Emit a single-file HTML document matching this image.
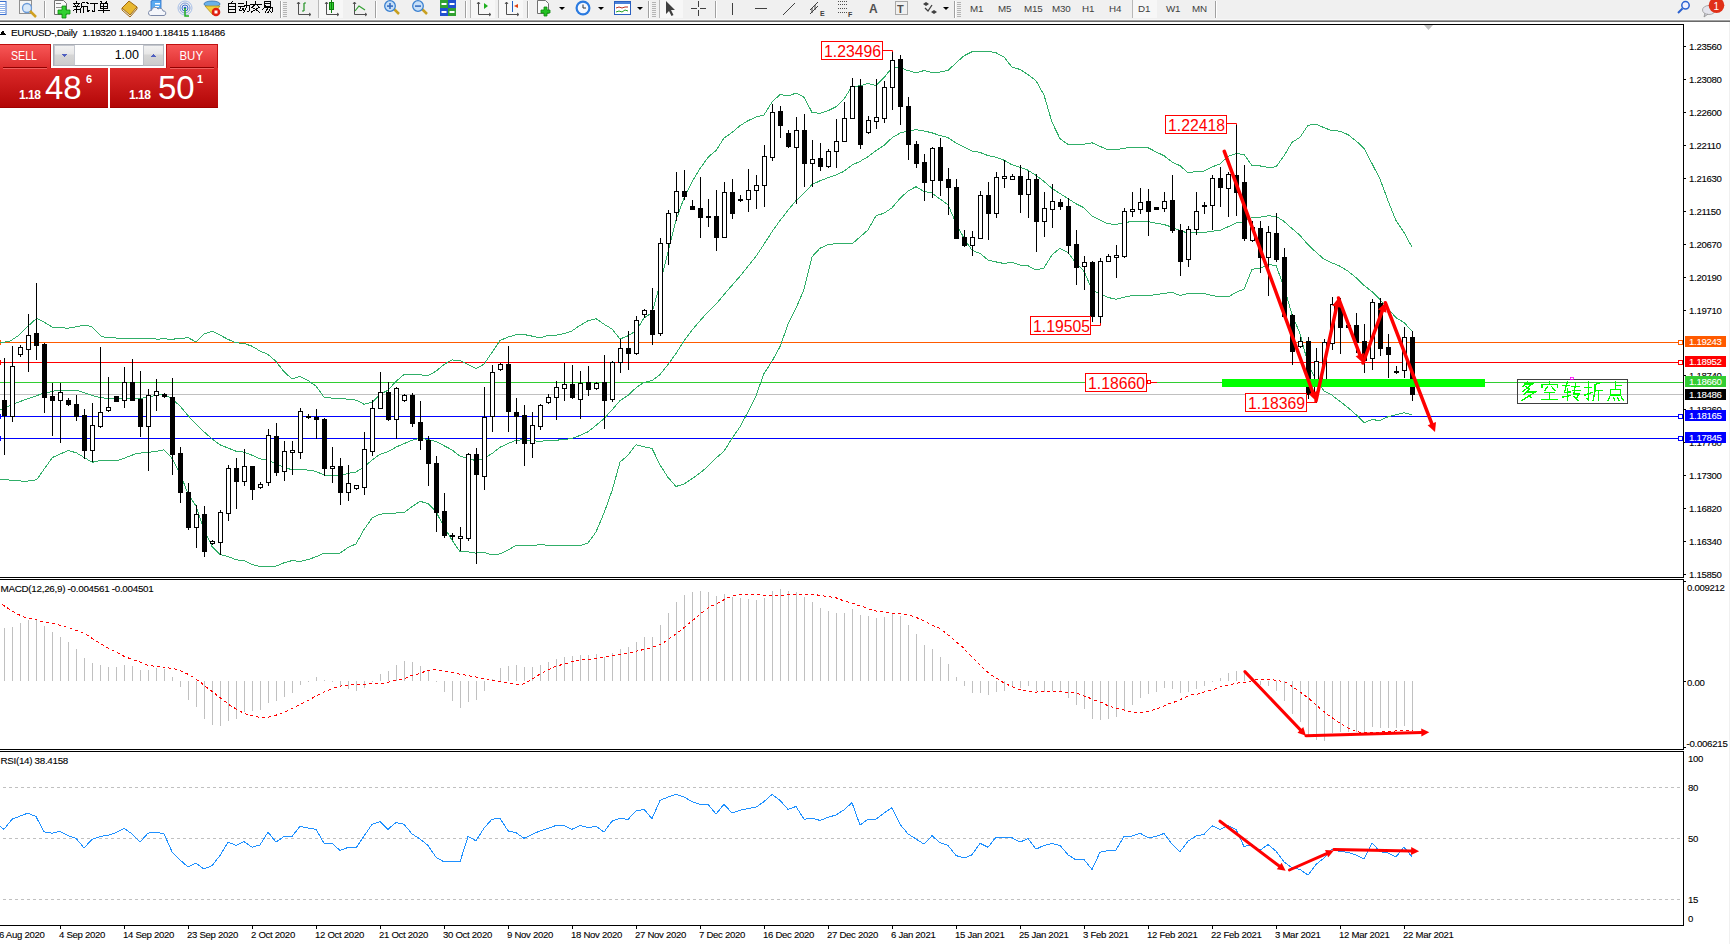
<!DOCTYPE html>
<html><head><meta charset="utf-8">
<style>
html,body{margin:0;padding:0;}
body{width:1730px;height:944px;overflow:hidden;position:relative;background:#fff;font-family:"Liberation Sans",sans-serif;}
.tb{position:absolute;left:0;top:0;width:1730px;height:19px;background:#f0f0f0;}
svg text{font-family:"Liberation Sans",sans-serif;}
.ax{font-size:9.6px;fill:#000;letter-spacing:-0.3px;stroke:currentColor;stroke-width:0.1px;}
.lb{font-size:16.5px;fill:#ff0000;}
</style></head><body>
<div class="tb"></div>
<svg width="1730" height="944" style="position:absolute;left:0;top:0" shape-rendering="crispEdges">
<rect x="0" y="19" width="1730" height="1" fill="#f8f8f8"/>
<rect x="0" y="20" width="1730" height="1" fill="#a0a0a0"/>
<rect x="0" y="21" width="1730" height="1" fill="#696969"/>
<rect x="1729" y="22" width="1" height="922" fill="#f0f0f0"/>
<polygon points="1424,25 1433,25 1428.5,30" fill="#c0c0c0" shape-rendering="auto"/>
<g>
<line x1="0" y1="342.5" x2="1683" y2="342.5" stroke="#ff5a00" stroke-width="1"/>
<line x1="0" y1="362.5" x2="1683" y2="362.5" stroke="#ff0000" stroke-width="1"/>
<line x1="0" y1="382.5" x2="1683" y2="382.5" stroke="#32cd32" stroke-width="1"/>
<line x1="0" y1="394.5" x2="1683" y2="394.5" stroke="#c0c0c0" stroke-width="1"/>
<line x1="0" y1="416.5" x2="1683" y2="416.5" stroke="#0000ff" stroke-width="1"/>
<line x1="0" y1="438.5" x2="1683" y2="438.5" stroke="#0000ff" stroke-width="1"/>
<rect x="0" y="340" width="1" height="5" fill="#ff5a00"/>
<rect x="1678.5" y="340.5" width="4" height="4" fill="#fff" stroke="#ff5a00" stroke-width="1"/>
<rect x="0" y="360" width="1" height="5" fill="#ff0000"/>
<rect x="1678.5" y="360.5" width="4" height="4" fill="#fff" stroke="#ff0000" stroke-width="1"/>
<rect x="0" y="414" width="1" height="5" fill="#0000ff"/>
<rect x="1678.5" y="414.5" width="4" height="4" fill="#fff" stroke="#0000ff" stroke-width="1"/>
<rect x="0" y="436" width="1" height="5" fill="#0000ff"/>
<rect x="1678.5" y="436.5" width="4" height="4" fill="#fff" stroke="#0000ff" stroke-width="1"/>
<polyline points="0.0,342.5 9.5,341.5 19.0,335.2 28.6,325.6 36.6,318.3 44.5,322.4 52.4,327.2 68.3,328.2 85.8,325.0 92.2,327.2 101.7,336.8 127.1,339.0 152.6,338.3 156.0,339.1 164.0,338.9 172.0,339.2 180.0,338.6 188.0,337.6 196.0,341.9 204.0,333.9 212.0,331.2 220.0,335.0 228.0,339.4 236.0,342.8 244.0,343.4 252.0,346.2 260.0,351.0 268.0,354.4 276.0,361.5 284.0,371.7 292.0,378.9 300.0,376.5 308.0,380.5 316.0,386.1 324.0,397.0 332.0,398.1 340.0,398.1 348.0,399.4 356.0,400.1 364.0,404.2 372.0,402.4 380.0,394.3 388.0,390.3 396.0,381.3 404.0,374.6 412.0,374.0 420.0,374.9 428.0,375.4 436.0,371.3 444.0,364.5 452.0,359.9 460.0,360.6 468.0,364.3 476.0,368.6 484.0,364.2 492.0,352.4 500.0,340.5 508.0,337.1 516.0,334.8 524.0,334.5 532.0,336.1 540.0,337.9 548.0,335.4 556.0,335.2 564.0,333.6 572.0,330.9 580.0,325.4 588.0,320.7 596.0,318.7 604.0,324.2 612.0,329.0 620.0,339.0 628.0,335.8 636.0,330.9 644.0,318.0 652.0,312.8 660.0,284.1 668.0,251.8 676.0,220.2 684.0,198.0 692.0,181.7 700.0,168.6 708.0,157.3 716.0,150.5 724.0,138.1 732.0,132.5 740.0,125.7 748.0,120.7 756.0,117.1 764.0,114.9 772.0,102.1 780.0,94.5 788.0,96.0 796.0,93.1 804.0,97.2 812.0,112.4 820.0,113.3 828.0,110.7 836.0,106.7 844.0,99.2 852.0,86.3 860.0,85.9 868.0,83.4 876.0,85.5 884.0,77.6 892.0,67.7 900.0,67.7 908.0,70.6 916.0,72.7 924.0,70.6 932.0,72.6 940.0,72.1 948.0,70.4 956.0,63.0 964.0,55.8 972.0,51.7 980.0,51.5 988.0,51.2 996.0,52.8 1004.0,57.0 1012.0,67.2 1020.0,69.4 1028.0,74.7 1036.0,80.7 1044.0,95.0 1052.0,122.2 1060.0,138.7 1068.0,144.4 1076.0,144.5 1084.0,144.2 1092.0,142.8 1100.0,146.3 1108.0,149.9 1116.0,149.7 1124.0,148.4 1132.0,147.1 1140.0,147.8 1148.0,147.7 1156.0,151.9 1164.0,155.7 1172.0,162.0 1180.0,165.7 1188.0,172.6 1196.0,171.6 1204.0,171.2 1212.0,166.9 1220.0,164.0 1228.0,156.5 1236.0,153.7 1244.0,154.4 1252.0,165.5 1260.0,165.9 1268.0,167.4 1276.0,166.9 1284.0,155.8 1292.0,142.3 1300.0,137.3 1308.0,125.4 1316.0,124.0 1324.0,127.7 1332.0,130.7 1340.0,131.1 1348.0,134.7 1356.0,140.8 1364.0,148.3 1372.0,163.6 1380.0,179.0 1388.0,200.6 1396.0,220.6 1404.0,232.5 1412.0,247.1" fill="none" stroke="#30ae68" stroke-width="1"/>
<polyline points="0.0,409.9 19.0,401.9 41.3,394.0 57.2,390.2 76.3,390.2 95.4,396.5 108.0,398.7 139.9,398.7 156.0,395.3 164.0,394.4 172.0,398.8 180.0,406.0 188.0,415.6 196.0,424.1 204.0,431.8 212.0,438.8 220.0,444.8 228.0,448.0 236.0,451.2 244.0,452.1 252.0,455.2 260.0,458.9 268.0,460.2 276.0,463.8 284.0,467.2 292.0,469.8 300.0,469.0 308.0,470.1 316.0,471.4 324.0,475.1 332.0,475.6 340.0,475.6 348.0,473.4 356.0,472.0 364.0,466.9 372.0,460.2 380.0,454.2 388.0,451.8 396.0,447.1 404.0,443.6 412.0,440.3 420.0,438.1 428.0,439.5 436.0,441.5 444.0,445.7 452.0,449.9 460.0,456.2 468.0,458.1 476.0,460.9 484.0,458.3 492.0,453.6 500.0,447.2 508.0,443.6 516.0,440.1 524.0,439.9 532.0,440.7 540.0,441.4 548.0,440.2 556.0,440.2 564.0,439.6 572.0,438.4 580.0,435.5 588.0,431.8 596.0,425.4 604.0,418.6 612.0,409.9 620.0,400.6 628.0,395.5 636.0,387.8 644.0,382.4 652.0,380.6 660.0,374.5 668.0,364.6 676.0,353.4 684.0,341.0 692.0,330.2 700.0,320.8 708.0,311.8 716.0,304.2 724.0,294.6 732.0,285.4 740.0,276.2 748.0,266.3 756.0,256.4 764.0,244.2 772.0,231.7 780.0,220.6 788.0,210.2 796.0,200.7 804.0,193.3 812.0,184.6 820.0,180.8 828.0,177.7 836.0,175.2 844.0,171.2 852.0,165.1 860.0,161.4 868.0,156.7 876.0,150.7 884.0,145.4 892.0,137.8 900.0,133.1 908.0,130.8 916.0,129.7 924.0,131.0 932.0,132.8 940.0,135.6 948.0,137.6 956.0,143.0 964.0,147.1 972.0,151.0 980.0,152.4 988.0,155.6 996.0,157.3 1004.0,160.2 1012.0,164.8 1020.0,167.2 1028.0,170.2 1036.0,175.4 1044.0,181.4 1052.0,188.5 1060.0,193.5 1068.0,198.6 1076.0,203.8 1084.0,207.8 1092.0,216.2 1100.0,220.2 1108.0,223.7 1116.0,224.5 1124.0,222.8 1132.0,221.4 1140.0,221.8 1148.0,221.7 1156.0,223.2 1164.0,224.5 1172.0,227.2 1180.0,230.6 1188.0,233.1 1196.0,232.6 1204.0,232.4 1212.0,231.2 1220.0,230.3 1228.0,226.8 1236.0,223.0 1244.0,221.8 1252.0,217.3 1260.0,217.2 1268.0,215.9 1276.0,216.2 1284.0,221.4 1292.0,228.5 1300.0,235.4 1308.0,244.6 1316.0,252.2 1324.0,259.2 1332.0,262.9 1340.0,266.2 1348.0,271.1 1356.0,277.7 1364.0,285.4 1372.0,291.6 1380.0,299.7 1388.0,308.7 1396.0,317.6 1404.0,322.6 1412.0,330.9" fill="none" stroke="#30ae68" stroke-width="1"/>
<polyline points="0.0,479.2 25.4,481.4 36.6,479.8 52.4,457.5 68.3,450.5 76.3,452.8 92.2,462.3 101.7,460.1 117.6,460.7 136.7,453.4 156.0,451.5 164.0,449.8 172.0,458.3 180.0,473.4 188.0,493.6 196.0,506.2 204.0,529.6 212.0,546.4 220.0,554.6 228.0,556.6 236.0,559.7 244.0,560.7 252.0,564.3 260.0,566.7 268.0,566.1 276.0,566.1 284.0,562.8 292.0,560.6 300.0,561.5 308.0,559.6 316.0,556.8 324.0,553.1 332.0,553.2 340.0,553.2 348.0,547.5 356.0,543.9 364.0,529.6 372.0,518.1 380.0,514.2 388.0,513.3 396.0,513.0 404.0,512.6 412.0,506.6 420.0,501.3 428.0,503.6 436.0,511.7 444.0,526.9 452.0,540.0 460.0,551.8 468.0,551.9 476.0,553.1 484.0,552.4 492.0,554.8 500.0,553.9 508.0,550.1 516.0,545.5 524.0,545.2 532.0,545.3 540.0,544.8 548.0,545.1 556.0,545.2 564.0,545.7 572.0,545.8 580.0,545.6 588.0,542.9 596.0,532.0 604.0,513.0 612.0,490.9 620.0,462.1 628.0,455.2 636.0,444.7 644.0,446.9 652.0,448.3 660.0,464.9 668.0,477.4 676.0,486.5 684.0,484.0 692.0,478.7 700.0,473.0 708.0,466.2 716.0,458.0 724.0,451.2 732.0,438.4 740.0,426.8 748.0,411.9 756.0,395.7 764.0,373.5 772.0,361.3 780.0,346.6 788.0,324.4 796.0,308.3 804.0,289.5 812.0,256.8 820.0,248.2 828.0,244.6 836.0,243.6 844.0,243.3 852.0,243.9 860.0,237.0 868.0,229.9 876.0,215.8 884.0,213.2 892.0,207.8 900.0,198.5 908.0,191.0 916.0,186.7 924.0,191.4 932.0,193.0 940.0,199.0 948.0,204.8 956.0,223.0 964.0,238.4 972.0,250.3 980.0,253.4 988.0,259.9 996.0,261.9 1004.0,263.5 1012.0,262.3 1020.0,265.1 1028.0,265.7 1036.0,270.1 1044.0,267.9 1052.0,254.8 1060.0,248.3 1068.0,252.7 1076.0,263.0 1084.0,271.3 1092.0,289.5 1100.0,294.1 1108.0,297.4 1116.0,299.3 1124.0,297.2 1132.0,295.7 1140.0,295.7 1148.0,295.6 1156.0,294.6 1164.0,293.3 1172.0,292.4 1180.0,295.4 1188.0,293.5 1196.0,293.5 1204.0,293.6 1212.0,295.6 1220.0,296.6 1228.0,297.0 1236.0,292.3 1244.0,289.2 1252.0,269.2 1260.0,268.4 1268.0,264.5 1276.0,265.4 1284.0,287.0 1292.0,314.7 1300.0,333.6 1308.0,363.8 1316.0,380.4 1324.0,390.8 1332.0,395.2 1340.0,401.4 1348.0,407.6 1356.0,414.6 1364.0,422.6 1372.0,419.7 1380.0,420.4 1388.0,416.8 1396.0,414.7 1404.0,412.7 1412.0,414.8" fill="none" stroke="#30ae68" stroke-width="1"/>
<rect x="4" y="358" width="1" height="97" fill="#000"/>
<rect x="2" y="400" width="5" height="16" fill="#000"/>
<rect x="12" y="346" width="1" height="76" fill="#000"/>
<rect x="10.5" y="366.5" width="4" height="50" fill="#fff" stroke="#000" stroke-width="1"/>
<rect x="20" y="345" width="1" height="12" fill="#000"/>
<rect x="18.5" y="347.5" width="4" height="7" fill="#fff" stroke="#000" stroke-width="1"/>
<rect x="28" y="314" width="1" height="58" fill="#000"/>
<rect x="26.5" y="335.5" width="4" height="14" fill="#fff" stroke="#000" stroke-width="1"/>
<rect x="36" y="283" width="1" height="77" fill="#000"/>
<rect x="34" y="333" width="5" height="13" fill="#000"/>
<rect x="44" y="343" width="1" height="70" fill="#000"/>
<rect x="42" y="344" width="5" height="54" fill="#000"/>
<rect x="52" y="383" width="1" height="53" fill="#000"/>
<rect x="50" y="396" width="5" height="5" fill="#000"/>
<rect x="60" y="383" width="1" height="60" fill="#000"/>
<rect x="58.5" y="392.5" width="4" height="8" fill="#fff" stroke="#000" stroke-width="1"/>
<rect x="68" y="398" width="1" height="8" fill="#000"/>
<rect x="66" y="400" width="5" height="5" fill="#000"/>
<rect x="76" y="395" width="1" height="26" fill="#000"/>
<rect x="74" y="404" width="5" height="13" fill="#000"/>
<rect x="84" y="409" width="1" height="50" fill="#000"/>
<rect x="82" y="415" width="5" height="36" fill="#000"/>
<rect x="92" y="403" width="1" height="59" fill="#000"/>
<rect x="90.5" y="425.5" width="4" height="25" fill="#fff" stroke="#000" stroke-width="1"/>
<rect x="100" y="347" width="1" height="81" fill="#000"/>
<rect x="98.5" y="412.5" width="4" height="14" fill="#fff" stroke="#000" stroke-width="1"/>
<rect x="108" y="377" width="1" height="35" fill="#000"/>
<rect x="106.5" y="407.5" width="4" height="3" fill="#fff" stroke="#000" stroke-width="1"/>
<rect x="116" y="396" width="1" height="6" fill="#000"/>
<rect x="114" y="396" width="5" height="6" fill="#000"/>
<rect x="124" y="367" width="1" height="41" fill="#000"/>
<rect x="122.5" y="382.5" width="4" height="18" fill="#fff" stroke="#000" stroke-width="1"/>
<rect x="132" y="359" width="1" height="42" fill="#000"/>
<rect x="130" y="382" width="5" height="19" fill="#000"/>
<rect x="140" y="371" width="1" height="66" fill="#000"/>
<rect x="138" y="399" width="5" height="28" fill="#000"/>
<rect x="148" y="389" width="1" height="82" fill="#000"/>
<rect x="146.5" y="395.5" width="4" height="31" fill="#fff" stroke="#000" stroke-width="1"/>
<rect x="156" y="379" width="1" height="32" fill="#000"/>
<rect x="154.5" y="391.5" width="4" height="4" fill="#fff" stroke="#000" stroke-width="1"/>
<rect x="164" y="393" width="1" height="5" fill="#000"/>
<rect x="162" y="394" width="5" height="3" fill="#000"/>
<rect x="172" y="378" width="1" height="97" fill="#000"/>
<rect x="170" y="397" width="5" height="58" fill="#000"/>
<rect x="180" y="447" width="1" height="56" fill="#000"/>
<rect x="178" y="453" width="5" height="40" fill="#000"/>
<rect x="188" y="483" width="1" height="47" fill="#000"/>
<rect x="186" y="492" width="5" height="36" fill="#000"/>
<rect x="196" y="505" width="1" height="43" fill="#000"/>
<rect x="194.5" y="514.5" width="4" height="13" fill="#fff" stroke="#000" stroke-width="1"/>
<rect x="204" y="506" width="1" height="51" fill="#000"/>
<rect x="202" y="514" width="5" height="38" fill="#000"/>
<rect x="212" y="540" width="1" height="5" fill="#000"/>
<rect x="210.5" y="541.5" width="4" height="2" fill="#fff" stroke="#000" stroke-width="1"/>
<rect x="220" y="510" width="1" height="45" fill="#000"/>
<rect x="218.5" y="512.5" width="4" height="30" fill="#fff" stroke="#000" stroke-width="1"/>
<rect x="228" y="465" width="1" height="56" fill="#000"/>
<rect x="226.5" y="468.5" width="4" height="45" fill="#fff" stroke="#000" stroke-width="1"/>
<rect x="236" y="458" width="1" height="51" fill="#000"/>
<rect x="234" y="468" width="5" height="14" fill="#000"/>
<rect x="244" y="449" width="1" height="37" fill="#000"/>
<rect x="242.5" y="466.5" width="4" height="15" fill="#fff" stroke="#000" stroke-width="1"/>
<rect x="252" y="466" width="1" height="34" fill="#000"/>
<rect x="250" y="466" width="5" height="24" fill="#000"/>
<rect x="260" y="482" width="1" height="7" fill="#000"/>
<rect x="258.5" y="484.5" width="4" height="3" fill="#fff" stroke="#000" stroke-width="1"/>
<rect x="268" y="429" width="1" height="57" fill="#000"/>
<rect x="266.5" y="435.5" width="4" height="47" fill="#fff" stroke="#000" stroke-width="1"/>
<rect x="276" y="423" width="1" height="53" fill="#000"/>
<rect x="274" y="436" width="5" height="37" fill="#000"/>
<rect x="284" y="441" width="1" height="40" fill="#000"/>
<rect x="282.5" y="451.5" width="4" height="20" fill="#fff" stroke="#000" stroke-width="1"/>
<rect x="292" y="441" width="1" height="34" fill="#000"/>
<rect x="290.5" y="450.5" width="4" height="2" fill="#fff" stroke="#000" stroke-width="1"/>
<rect x="300" y="408" width="1" height="51" fill="#000"/>
<rect x="298.5" y="411.5" width="4" height="41" fill="#fff" stroke="#000" stroke-width="1"/>
<rect x="308" y="414" width="1" height="5" fill="#000"/>
<rect x="306" y="416" width="5" height="2" fill="#000"/>
<rect x="316" y="409" width="1" height="30" fill="#000"/>
<rect x="314" y="417" width="5" height="3" fill="#000"/>
<rect x="324" y="418" width="1" height="58" fill="#000"/>
<rect x="322" y="419" width="5" height="50" fill="#000"/>
<rect x="332" y="447" width="1" height="36" fill="#000"/>
<rect x="330.5" y="466.5" width="4" height="2" fill="#fff" stroke="#000" stroke-width="1"/>
<rect x="340" y="458" width="1" height="47" fill="#000"/>
<rect x="338" y="466" width="5" height="27" fill="#000"/>
<rect x="348" y="465" width="1" height="36" fill="#000"/>
<rect x="346.5" y="483.5" width="4" height="9" fill="#fff" stroke="#000" stroke-width="1"/>
<rect x="356" y="485" width="1" height="5" fill="#000"/>
<rect x="354.5" y="485.5" width="4" height="3" fill="#fff" stroke="#000" stroke-width="1"/>
<rect x="364" y="432" width="1" height="63" fill="#000"/>
<rect x="362.5" y="449.5" width="4" height="38" fill="#fff" stroke="#000" stroke-width="1"/>
<rect x="372" y="400" width="1" height="56" fill="#000"/>
<rect x="370.5" y="408.5" width="4" height="43" fill="#fff" stroke="#000" stroke-width="1"/>
<rect x="380" y="372" width="1" height="37" fill="#000"/>
<rect x="378.5" y="392.5" width="4" height="16" fill="#fff" stroke="#000" stroke-width="1"/>
<rect x="388" y="382" width="1" height="39" fill="#000"/>
<rect x="386" y="392" width="5" height="28" fill="#000"/>
<rect x="396" y="387" width="1" height="52" fill="#000"/>
<rect x="394.5" y="388.5" width="4" height="31" fill="#fff" stroke="#000" stroke-width="1"/>
<rect x="404" y="394" width="1" height="8" fill="#000"/>
<rect x="402.5" y="395.5" width="4" height="5" fill="#fff" stroke="#000" stroke-width="1"/>
<rect x="412" y="393" width="1" height="34" fill="#000"/>
<rect x="410" y="395" width="5" height="29" fill="#000"/>
<rect x="420" y="401" width="1" height="49" fill="#000"/>
<rect x="418" y="422" width="5" height="19" fill="#000"/>
<rect x="428" y="436" width="1" height="50" fill="#000"/>
<rect x="426" y="440" width="5" height="24" fill="#000"/>
<rect x="436" y="456" width="1" height="76" fill="#000"/>
<rect x="434" y="463" width="5" height="50" fill="#000"/>
<rect x="444" y="493" width="1" height="45" fill="#000"/>
<rect x="442" y="511" width="5" height="25" fill="#000"/>
<rect x="452" y="533" width="1" height="7" fill="#000"/>
<rect x="450" y="535" width="5" height="2" fill="#000"/>
<rect x="460" y="527" width="1" height="24" fill="#000"/>
<rect x="458.5" y="536.5" width="4" height="2" fill="#fff" stroke="#000" stroke-width="1"/>
<rect x="468" y="453" width="1" height="88" fill="#000"/>
<rect x="466.5" y="454.5" width="4" height="84" fill="#fff" stroke="#000" stroke-width="1"/>
<rect x="476" y="448" width="1" height="116" fill="#000"/>
<rect x="474" y="454" width="5" height="21" fill="#000"/>
<rect x="484" y="387" width="1" height="103" fill="#000"/>
<rect x="482.5" y="417.5" width="4" height="59" fill="#fff" stroke="#000" stroke-width="1"/>
<rect x="492" y="365" width="1" height="67" fill="#000"/>
<rect x="490.5" y="372.5" width="4" height="44" fill="#fff" stroke="#000" stroke-width="1"/>
<rect x="500" y="363" width="1" height="8" fill="#000"/>
<rect x="498.5" y="364.5" width="4" height="5" fill="#fff" stroke="#000" stroke-width="1"/>
<rect x="508" y="346" width="1" height="86" fill="#000"/>
<rect x="506" y="364" width="5" height="48" fill="#000"/>
<rect x="516" y="398" width="1" height="46" fill="#000"/>
<rect x="514" y="412" width="5" height="5" fill="#000"/>
<rect x="524" y="405" width="1" height="61" fill="#000"/>
<rect x="522" y="415" width="5" height="29" fill="#000"/>
<rect x="532" y="412" width="1" height="46" fill="#000"/>
<rect x="530.5" y="425.5" width="4" height="18" fill="#fff" stroke="#000" stroke-width="1"/>
<rect x="540" y="404" width="1" height="26" fill="#000"/>
<rect x="538.5" y="405.5" width="4" height="21" fill="#fff" stroke="#000" stroke-width="1"/>
<rect x="548" y="394" width="1" height="10" fill="#000"/>
<rect x="546.5" y="397.5" width="4" height="5" fill="#fff" stroke="#000" stroke-width="1"/>
<rect x="556" y="381" width="1" height="39" fill="#000"/>
<rect x="554.5" y="387.5" width="4" height="10" fill="#fff" stroke="#000" stroke-width="1"/>
<rect x="564" y="363" width="1" height="38" fill="#000"/>
<rect x="562.5" y="384.5" width="4" height="4" fill="#fff" stroke="#000" stroke-width="1"/>
<rect x="572" y="365" width="1" height="34" fill="#000"/>
<rect x="570" y="384" width="5" height="14" fill="#000"/>
<rect x="580" y="371" width="1" height="48" fill="#000"/>
<rect x="578.5" y="383.5" width="4" height="16" fill="#fff" stroke="#000" stroke-width="1"/>
<rect x="588" y="366" width="1" height="30" fill="#000"/>
<rect x="586" y="382" width="5" height="8" fill="#000"/>
<rect x="596" y="382" width="1" height="8" fill="#000"/>
<rect x="594.5" y="383.5" width="4" height="5" fill="#fff" stroke="#000" stroke-width="1"/>
<rect x="604" y="355" width="1" height="74" fill="#000"/>
<rect x="602" y="382" width="5" height="19" fill="#000"/>
<rect x="612" y="361" width="1" height="41" fill="#000"/>
<rect x="610.5" y="362.5" width="4" height="37" fill="#fff" stroke="#000" stroke-width="1"/>
<rect x="620" y="339" width="1" height="34" fill="#000"/>
<rect x="618.5" y="348.5" width="4" height="14" fill="#fff" stroke="#000" stroke-width="1"/>
<rect x="628" y="331" width="1" height="39" fill="#000"/>
<rect x="626" y="348" width="5" height="6" fill="#000"/>
<rect x="636" y="316" width="1" height="39" fill="#000"/>
<rect x="634.5" y="320.5" width="4" height="33" fill="#fff" stroke="#000" stroke-width="1"/>
<rect x="644" y="309" width="1" height="9" fill="#000"/>
<rect x="642.5" y="310.5" width="4" height="4" fill="#fff" stroke="#000" stroke-width="1"/>
<rect x="652" y="288" width="1" height="57" fill="#000"/>
<rect x="650" y="310" width="5" height="25" fill="#000"/>
<rect x="660" y="238" width="1" height="98" fill="#000"/>
<rect x="658.5" y="243.5" width="4" height="90" fill="#fff" stroke="#000" stroke-width="1"/>
<rect x="668" y="210" width="1" height="55" fill="#000"/>
<rect x="666.5" y="213.5" width="4" height="30" fill="#fff" stroke="#000" stroke-width="1"/>
<rect x="676" y="172" width="1" height="49" fill="#000"/>
<rect x="674.5" y="191.5" width="4" height="21" fill="#fff" stroke="#000" stroke-width="1"/>
<rect x="684" y="170" width="1" height="30" fill="#000"/>
<rect x="682" y="191" width="5" height="6" fill="#000"/>
<rect x="692" y="200" width="1" height="10" fill="#000"/>
<rect x="690" y="206" width="5" height="4" fill="#000"/>
<rect x="700" y="177" width="1" height="61" fill="#000"/>
<rect x="698" y="208" width="5" height="10" fill="#000"/>
<rect x="708" y="199" width="1" height="28" fill="#000"/>
<rect x="706" y="216" width="5" height="2" fill="#000"/>
<rect x="716" y="190" width="1" height="61" fill="#000"/>
<rect x="714" y="216" width="5" height="22" fill="#000"/>
<rect x="724" y="182" width="1" height="56" fill="#000"/>
<rect x="722.5" y="192.5" width="4" height="45" fill="#fff" stroke="#000" stroke-width="1"/>
<rect x="732" y="179" width="1" height="40" fill="#000"/>
<rect x="730" y="192" width="5" height="22" fill="#000"/>
<rect x="740" y="195" width="1" height="7" fill="#000"/>
<rect x="738" y="199" width="5" height="2" fill="#000"/>
<rect x="748" y="169" width="1" height="43" fill="#000"/>
<rect x="746.5" y="190.5" width="4" height="9" fill="#fff" stroke="#000" stroke-width="1"/>
<rect x="756" y="175" width="1" height="34" fill="#000"/>
<rect x="754.5" y="185.5" width="4" height="5" fill="#fff" stroke="#000" stroke-width="1"/>
<rect x="764" y="145" width="1" height="62" fill="#000"/>
<rect x="762.5" y="156.5" width="4" height="29" fill="#fff" stroke="#000" stroke-width="1"/>
<rect x="772" y="104" width="1" height="57" fill="#000"/>
<rect x="770.5" y="112.5" width="4" height="45" fill="#fff" stroke="#000" stroke-width="1"/>
<rect x="780" y="106" width="1" height="32" fill="#000"/>
<rect x="778" y="111" width="5" height="15" fill="#000"/>
<rect x="788" y="130" width="1" height="18" fill="#000"/>
<rect x="786" y="133" width="5" height="14" fill="#000"/>
<rect x="796" y="117" width="1" height="87" fill="#000"/>
<rect x="794.5" y="130.5" width="4" height="17" fill="#fff" stroke="#000" stroke-width="1"/>
<rect x="804" y="114" width="1" height="73" fill="#000"/>
<rect x="802" y="130" width="5" height="34" fill="#000"/>
<rect x="812" y="140" width="1" height="47" fill="#000"/>
<rect x="810.5" y="159.5" width="4" height="4" fill="#fff" stroke="#000" stroke-width="1"/>
<rect x="820" y="143" width="1" height="28" fill="#000"/>
<rect x="818" y="158" width="5" height="9" fill="#000"/>
<rect x="828" y="149" width="1" height="19" fill="#000"/>
<rect x="826.5" y="151.5" width="4" height="15" fill="#fff" stroke="#000" stroke-width="1"/>
<rect x="836" y="119" width="1" height="49" fill="#000"/>
<rect x="834.5" y="141.5" width="4" height="10" fill="#fff" stroke="#000" stroke-width="1"/>
<rect x="844" y="102" width="1" height="40" fill="#000"/>
<rect x="842.5" y="118.5" width="4" height="23" fill="#fff" stroke="#000" stroke-width="1"/>
<rect x="852" y="78" width="1" height="41" fill="#000"/>
<rect x="850.5" y="86.5" width="4" height="32" fill="#fff" stroke="#000" stroke-width="1"/>
<rect x="860" y="79" width="1" height="70" fill="#000"/>
<rect x="858" y="86" width="5" height="59" fill="#000"/>
<rect x="868" y="116" width="1" height="18" fill="#000"/>
<rect x="866.5" y="120.5" width="4" height="12" fill="#fff" stroke="#000" stroke-width="1"/>
<rect x="876" y="79" width="1" height="50" fill="#000"/>
<rect x="874.5" y="117.5" width="4" height="4" fill="#fff" stroke="#000" stroke-width="1"/>
<rect x="884" y="81" width="1" height="42" fill="#000"/>
<rect x="882.5" y="87.5" width="4" height="31" fill="#fff" stroke="#000" stroke-width="1"/>
<rect x="892" y="51" width="1" height="59" fill="#000"/>
<rect x="890.5" y="60.5" width="4" height="27" fill="#fff" stroke="#000" stroke-width="1"/>
<rect x="900" y="55" width="1" height="70" fill="#000"/>
<rect x="898" y="59" width="5" height="48" fill="#000"/>
<rect x="908" y="97" width="1" height="63" fill="#000"/>
<rect x="906" y="106" width="5" height="39" fill="#000"/>
<rect x="916" y="141" width="1" height="27" fill="#000"/>
<rect x="914" y="144" width="5" height="20" fill="#000"/>
<rect x="924" y="154" width="1" height="47" fill="#000"/>
<rect x="922" y="162" width="5" height="21" fill="#000"/>
<rect x="932" y="147" width="1" height="51" fill="#000"/>
<rect x="930.5" y="148.5" width="4" height="32" fill="#fff" stroke="#000" stroke-width="1"/>
<rect x="940" y="138" width="1" height="58" fill="#000"/>
<rect x="938" y="147" width="5" height="34" fill="#000"/>
<rect x="948" y="168" width="1" height="47" fill="#000"/>
<rect x="946" y="179" width="5" height="9" fill="#000"/>
<rect x="956" y="179" width="1" height="60" fill="#000"/>
<rect x="954" y="187" width="5" height="52" fill="#000"/>
<rect x="964" y="230" width="1" height="17" fill="#000"/>
<rect x="962" y="237" width="5" height="9" fill="#000"/>
<rect x="972" y="231" width="1" height="25" fill="#000"/>
<rect x="970.5" y="237.5" width="4" height="8" fill="#fff" stroke="#000" stroke-width="1"/>
<rect x="980" y="191" width="1" height="48" fill="#000"/>
<rect x="978.5" y="195.5" width="4" height="43" fill="#fff" stroke="#000" stroke-width="1"/>
<rect x="988" y="182" width="1" height="58" fill="#000"/>
<rect x="986" y="195" width="5" height="19" fill="#000"/>
<rect x="996" y="172" width="1" height="46" fill="#000"/>
<rect x="994.5" y="177.5" width="4" height="36" fill="#fff" stroke="#000" stroke-width="1"/>
<rect x="1004" y="160" width="1" height="28" fill="#000"/>
<rect x="1002.5" y="176.5" width="4" height="2" fill="#fff" stroke="#000" stroke-width="1"/>
<rect x="1012" y="174" width="1" height="6" fill="#000"/>
<rect x="1010.5" y="176.5" width="4" height="3" fill="#fff" stroke="#000" stroke-width="1"/>
<rect x="1020" y="165" width="1" height="48" fill="#000"/>
<rect x="1018" y="176" width="5" height="19" fill="#000"/>
<rect x="1028" y="171" width="1" height="47" fill="#000"/>
<rect x="1026.5" y="179.5" width="4" height="15" fill="#fff" stroke="#000" stroke-width="1"/>
<rect x="1036" y="174" width="1" height="78" fill="#000"/>
<rect x="1034" y="179" width="5" height="43" fill="#000"/>
<rect x="1044" y="192" width="1" height="45" fill="#000"/>
<rect x="1042.5" y="208.5" width="4" height="13" fill="#fff" stroke="#000" stroke-width="1"/>
<rect x="1052" y="184" width="1" height="44" fill="#000"/>
<rect x="1050.5" y="201.5" width="4" height="8" fill="#fff" stroke="#000" stroke-width="1"/>
<rect x="1060" y="199" width="1" height="11" fill="#000"/>
<rect x="1058" y="202" width="5" height="5" fill="#000"/>
<rect x="1068" y="198" width="1" height="56" fill="#000"/>
<rect x="1066" y="206" width="5" height="40" fill="#000"/>
<rect x="1076" y="230" width="1" height="55" fill="#000"/>
<rect x="1074" y="244" width="5" height="24" fill="#000"/>
<rect x="1084" y="256" width="1" height="34" fill="#000"/>
<rect x="1082.5" y="262.5" width="4" height="4" fill="#fff" stroke="#000" stroke-width="1"/>
<rect x="1092" y="261" width="1" height="61" fill="#000"/>
<rect x="1090" y="262" width="5" height="55" fill="#000"/>
<rect x="1100" y="258" width="1" height="67" fill="#000"/>
<rect x="1098.5" y="261.5" width="4" height="55" fill="#fff" stroke="#000" stroke-width="1"/>
<rect x="1108" y="254" width="1" height="8" fill="#000"/>
<rect x="1106.5" y="256.5" width="4" height="5" fill="#fff" stroke="#000" stroke-width="1"/>
<rect x="1116" y="245" width="1" height="33" fill="#000"/>
<rect x="1114.5" y="255.5" width="4" height="2" fill="#fff" stroke="#000" stroke-width="1"/>
<rect x="1124" y="208" width="1" height="50" fill="#000"/>
<rect x="1122.5" y="211.5" width="4" height="45" fill="#fff" stroke="#000" stroke-width="1"/>
<rect x="1132" y="192" width="1" height="25" fill="#000"/>
<rect x="1130.5" y="209.5" width="4" height="2" fill="#fff" stroke="#000" stroke-width="1"/>
<rect x="1140" y="188" width="1" height="26" fill="#000"/>
<rect x="1138.5" y="202.5" width="4" height="7" fill="#fff" stroke="#000" stroke-width="1"/>
<rect x="1148" y="189" width="1" height="47" fill="#000"/>
<rect x="1146" y="201" width="5" height="11" fill="#000"/>
<rect x="1156" y="207" width="1" height="3" fill="#000"/>
<rect x="1154" y="207" width="5" height="3" fill="#000"/>
<rect x="1164" y="192" width="1" height="20" fill="#000"/>
<rect x="1162.5" y="201.5" width="4" height="7" fill="#fff" stroke="#000" stroke-width="1"/>
<rect x="1172" y="175" width="1" height="58" fill="#000"/>
<rect x="1170" y="200" width="5" height="31" fill="#000"/>
<rect x="1180" y="224" width="1" height="52" fill="#000"/>
<rect x="1178" y="230" width="5" height="32" fill="#000"/>
<rect x="1188" y="226" width="1" height="41" fill="#000"/>
<rect x="1186.5" y="229.5" width="4" height="30" fill="#fff" stroke="#000" stroke-width="1"/>
<rect x="1196" y="192" width="1" height="43" fill="#000"/>
<rect x="1194.5" y="211.5" width="4" height="18" fill="#fff" stroke="#000" stroke-width="1"/>
<rect x="1204" y="202" width="1" height="12" fill="#000"/>
<rect x="1202" y="205" width="5" height="2" fill="#000"/>
<rect x="1212" y="175" width="1" height="55" fill="#000"/>
<rect x="1210.5" y="178.5" width="4" height="27" fill="#fff" stroke="#000" stroke-width="1"/>
<rect x="1220" y="167" width="1" height="40" fill="#000"/>
<rect x="1218" y="178" width="5" height="10" fill="#000"/>
<rect x="1228" y="172" width="1" height="45" fill="#000"/>
<rect x="1226.5" y="174.5" width="4" height="14" fill="#fff" stroke="#000" stroke-width="1"/>
<rect x="1236" y="124" width="1" height="92" fill="#000"/>
<rect x="1234" y="175" width="5" height="18" fill="#000"/>
<rect x="1244" y="165" width="1" height="76" fill="#000"/>
<rect x="1242" y="182" width="5" height="57" fill="#000"/>
<rect x="1252" y="221" width="1" height="21" fill="#000"/>
<rect x="1250.5" y="227.5" width="4" height="13" fill="#fff" stroke="#000" stroke-width="1"/>
<rect x="1260" y="221" width="1" height="52" fill="#000"/>
<rect x="1258" y="228" width="5" height="30" fill="#000"/>
<rect x="1268" y="226" width="1" height="70" fill="#000"/>
<rect x="1266.5" y="232.5" width="4" height="25" fill="#fff" stroke="#000" stroke-width="1"/>
<rect x="1276" y="213" width="1" height="49" fill="#000"/>
<rect x="1274" y="233" width="5" height="27" fill="#000"/>
<rect x="1284" y="248" width="1" height="71" fill="#000"/>
<rect x="1282" y="257" width="5" height="60" fill="#000"/>
<rect x="1292" y="314" width="1" height="51" fill="#000"/>
<rect x="1290" y="315" width="5" height="37" fill="#000"/>
<rect x="1300" y="337" width="1" height="11" fill="#000"/>
<rect x="1298.5" y="341.5" width="4" height="5" fill="#fff" stroke="#000" stroke-width="1"/>
<rect x="1308" y="337" width="1" height="62" fill="#000"/>
<rect x="1306" y="341" width="5" height="54" fill="#000"/>
<rect x="1316" y="348" width="1" height="55" fill="#000"/>
<rect x="1314.5" y="361.5" width="4" height="31" fill="#fff" stroke="#000" stroke-width="1"/>
<rect x="1324" y="339" width="1" height="42" fill="#000"/>
<rect x="1322.5" y="342.5" width="4" height="37" fill="#fff" stroke="#000" stroke-width="1"/>
<rect x="1332" y="297" width="1" height="53" fill="#000"/>
<rect x="1330.5" y="304.5" width="4" height="39" fill="#fff" stroke="#000" stroke-width="1"/>
<rect x="1340" y="298" width="1" height="56" fill="#000"/>
<rect x="1338" y="306" width="5" height="22" fill="#000"/>
<rect x="1348" y="324" width="1" height="4" fill="#000"/>
<rect x="1346" y="325" width="5" height="3" fill="#000"/>
<rect x="1356" y="313" width="1" height="40" fill="#000"/>
<rect x="1354" y="325" width="5" height="18" fill="#000"/>
<rect x="1364" y="324" width="1" height="49" fill="#000"/>
<rect x="1362" y="341" width="5" height="20" fill="#000"/>
<rect x="1372" y="299" width="1" height="71" fill="#000"/>
<rect x="1370.5" y="302.5" width="4" height="56" fill="#fff" stroke="#000" stroke-width="1"/>
<rect x="1380" y="298" width="1" height="58" fill="#000"/>
<rect x="1378" y="303" width="5" height="46" fill="#000"/>
<rect x="1388" y="334" width="1" height="44" fill="#000"/>
<rect x="1386" y="347" width="5" height="8" fill="#000"/>
<rect x="1396" y="366" width="1" height="8" fill="#000"/>
<rect x="1394" y="371" width="5" height="2" fill="#000"/>
<rect x="1404" y="327" width="1" height="51" fill="#000"/>
<rect x="1402.5" y="337.5" width="4" height="33" fill="#fff" stroke="#000" stroke-width="1"/>
<rect x="1412" y="331" width="1" height="70" fill="#000"/>
<rect x="1410" y="337" width="5" height="58" fill="#000"/>
</g>
<g><rect x="4" y="628" width="1" height="53" fill="#c0c0c0"/>
<rect x="12" y="627" width="1" height="54" fill="#c0c0c0"/>
<rect x="20" y="623" width="1" height="58" fill="#c0c0c0"/>
<rect x="28" y="620" width="1" height="61" fill="#c0c0c0"/>
<rect x="36" y="619" width="1" height="62" fill="#c0c0c0"/>
<rect x="44" y="626" width="1" height="55" fill="#c0c0c0"/>
<rect x="52" y="632" width="1" height="49" fill="#c0c0c0"/>
<rect x="60" y="637" width="1" height="44" fill="#c0c0c0"/>
<rect x="68" y="642" width="1" height="39" fill="#c0c0c0"/>
<rect x="76" y="649" width="1" height="32" fill="#c0c0c0"/>
<rect x="84" y="658" width="1" height="23" fill="#c0c0c0"/>
<rect x="92" y="663" width="1" height="18" fill="#c0c0c0"/>
<rect x="100" y="665" width="1" height="16" fill="#c0c0c0"/>
<rect x="108" y="667" width="1" height="14" fill="#c0c0c0"/>
<rect x="116" y="667" width="1" height="14" fill="#c0c0c0"/>
<rect x="124" y="665" width="1" height="16" fill="#c0c0c0"/>
<rect x="132" y="666" width="1" height="15" fill="#c0c0c0"/>
<rect x="140" y="670" width="1" height="11" fill="#c0c0c0"/>
<rect x="148" y="670" width="1" height="11" fill="#c0c0c0"/>
<rect x="156" y="668" width="1" height="13" fill="#c0c0c0"/>
<rect x="164" y="669" width="1" height="12" fill="#c0c0c0"/>
<rect x="172" y="677" width="1" height="4" fill="#c0c0c0"/>
<rect x="180" y="681" width="1" height="6" fill="#c0c0c0"/>
<rect x="188" y="681" width="1" height="19" fill="#c0c0c0"/>
<rect x="196" y="681" width="1" height="26" fill="#c0c0c0"/>
<rect x="204" y="681" width="1" height="38" fill="#c0c0c0"/>
<rect x="212" y="681" width="1" height="44" fill="#c0c0c0"/>
<rect x="220" y="681" width="1" height="45" fill="#c0c0c0"/>
<rect x="228" y="681" width="1" height="40" fill="#c0c0c0"/>
<rect x="236" y="681" width="1" height="38" fill="#c0c0c0"/>
<rect x="244" y="681" width="1" height="31" fill="#c0c0c0"/>
<rect x="252" y="681" width="1" height="30" fill="#c0c0c0"/>
<rect x="260" y="681" width="1" height="29" fill="#c0c0c0"/>
<rect x="268" y="681" width="1" height="22" fill="#c0c0c0"/>
<rect x="276" y="681" width="1" height="20" fill="#c0c0c0"/>
<rect x="284" y="681" width="1" height="16" fill="#c0c0c0"/>
<rect x="292" y="681" width="1" height="12" fill="#c0c0c0"/>
<rect x="300" y="681" width="1" height="4" fill="#c0c0c0"/>
<rect x="308" y="681" width="1" height="1" fill="#c0c0c0"/>
<rect x="316" y="677" width="1" height="4" fill="#c0c0c0"/>
<rect x="324" y="680" width="1" height="1" fill="#c0c0c0"/>
<rect x="332" y="681" width="1" height="1" fill="#c0c0c0"/>
<rect x="340" y="681" width="1" height="5" fill="#c0c0c0"/>
<rect x="348" y="681" width="1" height="8" fill="#c0c0c0"/>
<rect x="356" y="681" width="1" height="10" fill="#c0c0c0"/>
<rect x="364" y="681" width="1" height="7" fill="#c0c0c0"/>
<rect x="372" y="681" width="1" height="1" fill="#c0c0c0"/>
<rect x="380" y="674" width="1" height="7" fill="#c0c0c0"/>
<rect x="388" y="671" width="1" height="10" fill="#c0c0c0"/>
<rect x="396" y="665" width="1" height="16" fill="#c0c0c0"/>
<rect x="404" y="661" width="1" height="20" fill="#c0c0c0"/>
<rect x="412" y="662" width="1" height="19" fill="#c0c0c0"/>
<rect x="420" y="666" width="1" height="15" fill="#c0c0c0"/>
<rect x="428" y="671" width="1" height="10" fill="#c0c0c0"/>
<rect x="436" y="681" width="1" height="1" fill="#c0c0c0"/>
<rect x="444" y="681" width="1" height="11" fill="#c0c0c0"/>
<rect x="452" y="681" width="1" height="20" fill="#c0c0c0"/>
<rect x="460" y="681" width="1" height="27" fill="#c0c0c0"/>
<rect x="468" y="681" width="1" height="21" fill="#c0c0c0"/>
<rect x="476" y="681" width="1" height="19" fill="#c0c0c0"/>
<rect x="484" y="681" width="1" height="10" fill="#c0c0c0"/>
<rect x="492" y="679" width="1" height="2" fill="#c0c0c0"/>
<rect x="500" y="668" width="1" height="13" fill="#c0c0c0"/>
<rect x="508" y="666" width="1" height="15" fill="#c0c0c0"/>
<rect x="516" y="665" width="1" height="16" fill="#c0c0c0"/>
<rect x="524" y="667" width="1" height="14" fill="#c0c0c0"/>
<rect x="532" y="667" width="1" height="14" fill="#c0c0c0"/>
<rect x="540" y="665" width="1" height="16" fill="#c0c0c0"/>
<rect x="548" y="662" width="1" height="19" fill="#c0c0c0"/>
<rect x="556" y="659" width="1" height="22" fill="#c0c0c0"/>
<rect x="564" y="657" width="1" height="24" fill="#c0c0c0"/>
<rect x="572" y="656" width="1" height="25" fill="#c0c0c0"/>
<rect x="580" y="655" width="1" height="26" fill="#c0c0c0"/>
<rect x="588" y="655" width="1" height="26" fill="#c0c0c0"/>
<rect x="596" y="654" width="1" height="27" fill="#c0c0c0"/>
<rect x="604" y="657" width="1" height="24" fill="#c0c0c0"/>
<rect x="612" y="653" width="1" height="28" fill="#c0c0c0"/>
<rect x="620" y="649" width="1" height="32" fill="#c0c0c0"/>
<rect x="628" y="647" width="1" height="34" fill="#c0c0c0"/>
<rect x="636" y="642" width="1" height="39" fill="#c0c0c0"/>
<rect x="644" y="637" width="1" height="44" fill="#c0c0c0"/>
<rect x="652" y="637" width="1" height="44" fill="#c0c0c0"/>
<rect x="660" y="625" width="1" height="56" fill="#c0c0c0"/>
<rect x="668" y="613" width="1" height="68" fill="#c0c0c0"/>
<rect x="676" y="602" width="1" height="79" fill="#c0c0c0"/>
<rect x="684" y="595" width="1" height="86" fill="#c0c0c0"/>
<rect x="692" y="592" width="1" height="89" fill="#c0c0c0"/>
<rect x="700" y="591" width="1" height="90" fill="#c0c0c0"/>
<rect x="708" y="592" width="1" height="89" fill="#c0c0c0"/>
<rect x="716" y="596" width="1" height="85" fill="#c0c0c0"/>
<rect x="724" y="594" width="1" height="87" fill="#c0c0c0"/>
<rect x="732" y="597" width="1" height="84" fill="#c0c0c0"/>
<rect x="740" y="598" width="1" height="83" fill="#c0c0c0"/>
<rect x="748" y="599" width="1" height="82" fill="#c0c0c0"/>
<rect x="756" y="600" width="1" height="81" fill="#c0c0c0"/>
<rect x="764" y="598" width="1" height="83" fill="#c0c0c0"/>
<rect x="772" y="591" width="1" height="90" fill="#c0c0c0"/>
<rect x="780" y="589" width="1" height="92" fill="#c0c0c0"/>
<rect x="788" y="591" width="1" height="90" fill="#c0c0c0"/>
<rect x="796" y="592" width="1" height="89" fill="#c0c0c0"/>
<rect x="804" y="597" width="1" height="84" fill="#c0c0c0"/>
<rect x="812" y="602" width="1" height="79" fill="#c0c0c0"/>
<rect x="820" y="608" width="1" height="73" fill="#c0c0c0"/>
<rect x="828" y="611" width="1" height="70" fill="#c0c0c0"/>
<rect x="836" y="613" width="1" height="68" fill="#c0c0c0"/>
<rect x="844" y="613" width="1" height="68" fill="#c0c0c0"/>
<rect x="852" y="609" width="1" height="72" fill="#c0c0c0"/>
<rect x="860" y="615" width="1" height="66" fill="#c0c0c0"/>
<rect x="868" y="616" width="1" height="65" fill="#c0c0c0"/>
<rect x="876" y="618" width="1" height="63" fill="#c0c0c0"/>
<rect x="884" y="617" width="1" height="64" fill="#c0c0c0"/>
<rect x="892" y="614" width="1" height="67" fill="#c0c0c0"/>
<rect x="900" y="616" width="1" height="65" fill="#c0c0c0"/>
<rect x="908" y="625" width="1" height="56" fill="#c0c0c0"/>
<rect x="916" y="634" width="1" height="47" fill="#c0c0c0"/>
<rect x="924" y="645" width="1" height="36" fill="#c0c0c0"/>
<rect x="932" y="649" width="1" height="32" fill="#c0c0c0"/>
<rect x="940" y="657" width="1" height="24" fill="#c0c0c0"/>
<rect x="948" y="664" width="1" height="17" fill="#c0c0c0"/>
<rect x="956" y="677" width="1" height="4" fill="#c0c0c0"/>
<rect x="964" y="681" width="1" height="5" fill="#c0c0c0"/>
<rect x="972" y="681" width="1" height="12" fill="#c0c0c0"/>
<rect x="980" y="681" width="1" height="12" fill="#c0c0c0"/>
<rect x="988" y="681" width="1" height="14" fill="#c0c0c0"/>
<rect x="996" y="681" width="1" height="11" fill="#c0c0c0"/>
<rect x="1004" y="681" width="1" height="10" fill="#c0c0c0"/>
<rect x="1012" y="681" width="1" height="6" fill="#c0c0c0"/>
<rect x="1020" y="681" width="1" height="7" fill="#c0c0c0"/>
<rect x="1028" y="681" width="1" height="5" fill="#c0c0c0"/>
<rect x="1036" y="681" width="1" height="10" fill="#c0c0c0"/>
<rect x="1044" y="681" width="1" height="11" fill="#c0c0c0"/>
<rect x="1052" y="681" width="1" height="10" fill="#c0c0c0"/>
<rect x="1060" y="681" width="1" height="10" fill="#c0c0c0"/>
<rect x="1068" y="681" width="1" height="17" fill="#c0c0c0"/>
<rect x="1076" y="681" width="1" height="24" fill="#c0c0c0"/>
<rect x="1084" y="681" width="1" height="28" fill="#c0c0c0"/>
<rect x="1092" y="681" width="1" height="38" fill="#c0c0c0"/>
<rect x="1100" y="681" width="1" height="39" fill="#c0c0c0"/>
<rect x="1108" y="681" width="1" height="38" fill="#c0c0c0"/>
<rect x="1116" y="681" width="1" height="36" fill="#c0c0c0"/>
<rect x="1124" y="681" width="1" height="29" fill="#c0c0c0"/>
<rect x="1132" y="681" width="1" height="24" fill="#c0c0c0"/>
<rect x="1140" y="681" width="1" height="17" fill="#c0c0c0"/>
<rect x="1148" y="681" width="1" height="13" fill="#c0c0c0"/>
<rect x="1156" y="681" width="1" height="11" fill="#c0c0c0"/>
<rect x="1164" y="681" width="1" height="7" fill="#c0c0c0"/>
<rect x="1172" y="681" width="1" height="8" fill="#c0c0c0"/>
<rect x="1180" y="681" width="1" height="12" fill="#c0c0c0"/>
<rect x="1188" y="681" width="1" height="11" fill="#c0c0c0"/>
<rect x="1196" y="681" width="1" height="8" fill="#c0c0c0"/>
<rect x="1204" y="681" width="1" height="5" fill="#c0c0c0"/>
<rect x="1212" y="681" width="1" height="1" fill="#c0c0c0"/>
<rect x="1220" y="678" width="1" height="3" fill="#c0c0c0"/>
<rect x="1228" y="673" width="1" height="8" fill="#c0c0c0"/>
<rect x="1236" y="671" width="1" height="10" fill="#c0c0c0"/>
<rect x="1244" y="673" width="1" height="8" fill="#c0c0c0"/>
<rect x="1252" y="681" width="1" height="1" fill="#c0c0c0"/>
<rect x="1260" y="681" width="1" height="4" fill="#c0c0c0"/>
<rect x="1268" y="681" width="1" height="5" fill="#c0c0c0"/>
<rect x="1276" y="681" width="1" height="10" fill="#c0c0c0"/>
<rect x="1284" y="681" width="1" height="20" fill="#c0c0c0"/>
<rect x="1292" y="681" width="1" height="33" fill="#c0c0c0"/>
<rect x="1300" y="681" width="1" height="41" fill="#c0c0c0"/>
<rect x="1308" y="681" width="1" height="55" fill="#c0c0c0"/>
<rect x="1316" y="681" width="1" height="59" fill="#c0c0c0"/>
<rect x="1324" y="681" width="1" height="60" fill="#c0c0c0"/>
<rect x="1332" y="681" width="1" height="52" fill="#c0c0c0"/>
<rect x="1340" y="681" width="1" height="51" fill="#c0c0c0"/>
<rect x="1348" y="681" width="1" height="51" fill="#c0c0c0"/>
<rect x="1356" y="681" width="1" height="51" fill="#c0c0c0"/>
<rect x="1364" y="681" width="1" height="51" fill="#c0c0c0"/>
<rect x="1372" y="681" width="1" height="46" fill="#c0c0c0"/>
<rect x="1380" y="681" width="1" height="47" fill="#c0c0c0"/>
<rect x="1388" y="681" width="1" height="47" fill="#c0c0c0"/>
<rect x="1396" y="681" width="1" height="47" fill="#c0c0c0"/>
<rect x="1404" y="681" width="1" height="45" fill="#c0c0c0"/>
<rect x="1412" y="681" width="1" height="49" fill="#c0c0c0"/>
<polyline points="2.3,604.5 9.0,609.0 15.0,612.8 21.0,615.8 27.1,618.0 34.6,619.2 39.1,621.0 45.1,622.5 51.1,623.3 57.1,624.3 63.1,626.3 69.1,627.8 75.1,630.1 81.2,632.0 87.2,635.0 93.2,639.1 99.2,642.5 105.2,646.6 111.2,649.6 117.2,652.6 123.2,655.9 129.2,658.3 135.3,660.4 141.3,662.4 147.3,665.1 153.3,666.1 159.3,666.4 165.3,667.3 171.3,668.4 177.3,669.4 183.3,671.8 189.4,675.1 195.4,678.6 201.4,683.0 207.4,687.9 231.1,706.1 237.1,709.4 243.1,712.9 249.1,715.1 255.1,716.6 261.2,717.4 267.2,717.4 273.2,716.3 279.2,713.9 285.2,711.7 291.2,709.1 297.2,705.7 303.2,702.8 309.2,699.8 315.3,696.4 321.3,693.4 327.3,690.6 333.3,688.1 339.3,686.3 345.3,685.4 351.3,684.8 357.3,684.3 363.3,684.3 369.4,683.6 375.4,683.6 381.4,683.3 387.4,682.5 393.4,680.9 399.4,679.4 405.4,678.3 411.4,675.6 417.5,674.3 423.5,672.0 429.5,670.5 435.5,669.6 520.2,685.2 526.2,682.6 532.2,679.1 538.2,675.1 544.2,672.1 550.2,668.8 556.2,666.1 562.2,664.6 568.3,663.1 574.3,660.8 580.3,660.1 586.3,659.3 592.3,658.9 598.3,658.3 604.3,657.4 610.3,655.8 616.3,654.8 622.4,654.0 628.4,653.3 634.4,651.5 640.4,650.3 646.4,648.8 652.4,647.3 658.4,645.5 664.4,642.0 670.4,637.5 676.5,633.8 705.5,609.8 711.5,606.0 717.5,603.5 723.6,600.0 729.6,597.0 735.6,595.2 741.6,594.5 752.1,594.5 759.6,594.5 767.1,595.5 774.7,595.5 782.2,595.2 788.2,594.5 797.2,594.5 806.2,594.5 813.7,594.5 821.2,595.5 827.3,596.6 834.8,597.5 839.3,598.8 843.8,601.2 849.8,602.3 855.8,604.5 861.8,606.3 867.8,608.6 873.8,610.6 879.9,611.6 885.9,612.5 891.9,613.6 897.9,613.6 903.9,614.3 909.9,615.4 915.9,617.3 921.9,619.9 927.9,622.9 934.0,625.9 940.0,628.6 946.0,633.1 963.0,647.5 969.0,654.3 975.1,660.3 981.1,666.3 987.1,671.6 993.1,676.1 999.1,679.8 1005.1,683.6 1011.1,686.1 1017.1,688.8 1023.1,690.6 1029.2,691.5 1035.2,692.3 1041.2,691.5 1047.2,691.5 1053.2,691.5 1059.2,691.5 1065.2,692.3 1071.2,692.6 1077.2,693.4 1083.3,695.9 1089.3,697.9 1095.3,700.4 1101.3,702.4 1107.3,705.4 1113.3,707.3 1119.3,708.8 1125.3,710.3 1131.3,711.8 1137.4,712.4 1143.4,712.4 1149.4,711.4 1155.4,709.1 1161.4,707.2 1167.4,704.3 1173.4,702.4 1179.4,700.1 1185.5,697.1 1191.5,694.9 1197.5,694.1 1203.5,692.1 1207.0,691.3 1213.0,689.8 1219.0,687.3 1225.0,685.8 1231.1,684.3 1237.1,683.1 1243.1,682.3 1249.1,681.6 1255.1,679.8 1264.1,679.3 1271.6,679.6 1279.1,680.8 1285.2,681.9 1291.2,685.8 1297.2,689.8 1303.2,694.3 1309.2,698.8 1315.2,704.1 1321.2,709.4 1327.2,714.3 1333.2,718.4 1339.3,722.9 1345.3,726.6 1351.3,729.7 1357.3,731.9 1363.3,732.4 1369.3,732.4 1375.3,732.4 1381.3,731.9 1387.3,731.5 1393.4,731.2 1399.4,730.4 1405.4,730.4 1412.9,730.4" fill="none" stroke="#ff0000" stroke-width="1" stroke-dasharray="3,3"/></g>
<g><line x1="0" y1="787.5" x2="1683" y2="787.5" stroke="#c0c0c0" stroke-width="1" stroke-dasharray="3,3" stroke-dashoffset="3"/>
<line x1="0" y1="838.5" x2="1683" y2="838.5" stroke="#c0c0c0" stroke-width="1" stroke-dasharray="3,3" stroke-dashoffset="3"/>
<line x1="0" y1="899.5" x2="1683" y2="899.5" stroke="#c0c0c0" stroke-width="1" stroke-dasharray="3,3" stroke-dashoffset="3"/>
<polyline points="0.0,826.5 4.0,829.3 12.0,819.2 20.0,816.1 28.0,813.1 36.0,816.6 44.0,831.9 52.0,833.2 60.0,831.4 68.0,835.7 76.0,838.3 84.0,847.9 92.0,839.5 100.0,836.5 108.0,835.2 116.0,832.7 124.0,828.3 132.0,833.9 140.0,842.1 148.0,833.2 156.0,832.1 164.0,833.9 172.0,851.7 180.0,859.9 188.0,867.0 196.0,863.2 204.0,869.0 212.0,865.7 220.0,855.5 228.0,842.1 236.0,845.4 244.0,841.6 252.0,847.2 260.0,844.9 268.0,832.1 276.0,842.1 284.0,836.5 292.0,836.5 300.0,826.3 308.0,828.1 316.0,829.3 324.0,843.3 332.0,843.3 340.0,850.5 348.0,847.4 356.0,847.9 364.0,836.0 372.0,824.5 380.0,821.7 388.0,829.3 396.0,822.5 404.0,824.3 412.0,833.9 420.0,839.0 428.0,845.4 436.0,857.3 444.0,861.9 452.0,861.9 460.0,861.9 468.0,836.5 476.0,840.8 484.0,828.1 492.0,819.2 500.0,818.2 508.0,830.9 516.0,832.7 524.0,838.3 532.0,834.4 540.0,830.9 548.0,828.3 556.0,825.5 564.0,825.5 572.0,829.3 580.0,825.5 588.0,827.6 596.0,826.3 604.0,832.1 612.0,821.2 620.0,818.2 628.0,819.4 636.0,811.0 644.0,809.3 652.0,818.7 660.0,800.4 668.0,797.0 676.0,794.5 684.0,797.0 692.0,801.6 700.0,804.2 708.0,804.2 716.0,814.1 724.0,804.2 732.0,813.1 740.0,810.3 748.0,808.5 756.0,807.2 764.0,801.6 772.0,794.5 780.0,800.4 788.0,809.3 796.0,806.5 804.0,819.2 812.0,818.2 820.0,820.4 828.0,817.4 836.0,814.9 844.0,809.8 852.0,802.6 860.0,825.0 868.0,819.2 876.0,819.2 884.0,813.1 892.0,807.7 900.0,824.3 908.0,833.9 916.0,839.0 924.0,844.1 932.0,835.7 940.0,842.8 948.0,845.4 956.0,855.5 964.0,858.1 972.0,854.8 980.0,843.3 988.0,847.2 996.0,837.2 1004.0,837.2 1012.0,837.7 1020.0,842.1 1028.0,838.5 1036.0,849.2 1044.0,845.4 1052.0,843.6 1060.0,845.4 1068.0,854.8 1076.0,859.9 1084.0,859.4 1092.0,869.5 1100.0,852.2 1108.0,850.5 1116.0,850.0 1124.0,836.5 1132.0,836.0 1140.0,833.2 1148.0,837.7 1156.0,836.5 1164.0,833.4 1172.0,844.1 1180.0,851.7 1188.0,841.1 1196.0,836.0 1204.0,834.4 1212.0,825.8 1220.0,829.3 1228.0,825.5 1236.0,829.3 1244.0,846.6 1252.0,844.6 1260.0,850.4 1268.0,844.6 1276.0,851.2 1284.0,861.9 1292.0,867.7 1300.0,869.5 1308.0,875.1 1316.0,864.4 1324.0,858.1 1332.0,849.2 1340.0,851.7 1348.0,852.2 1356.0,855.0 1364.0,858.8 1372.0,842.8 1380.0,851.7 1388.0,853.0 1396.0,856.8 1404.0,847.1 1412.0,856.8" fill="none" stroke="#1e90ff" stroke-width="1"/></g>
<g shape-rendering="auto"><rect x="821.5" y="41.5" width="61" height="18" fill="#fff" stroke="#ff0000" stroke-width="1"/>
<text x="824" y="56.5" class="lb" textLength="57" lengthAdjust="spacingAndGlyphs">1.23496</text>
<polyline points="882,50.5 892.5,50.5 892.5,52" fill="none" stroke="#ff0000"/>
<rect x="1165.5" y="115.5" width="61" height="18" fill="#fff" stroke="#ff0000" stroke-width="1"/>
<text x="1168" y="130.5" class="lb" textLength="57" lengthAdjust="spacingAndGlyphs">1.22418</text>
<polyline points="1226,123.5 1236.5,123.5 1236.5,125" fill="none" stroke="#ff0000"/>
<rect x="1030.5" y="316.5" width="60" height="18" fill="#fff" stroke="#ff0000" stroke-width="1"/>
<text x="1033" y="331.5" class="lb" textLength="57" lengthAdjust="spacingAndGlyphs">1.19505</text>
<polyline points="1090,325.5 1100.5,325.5 1100.5,323" fill="none" stroke="#ff0000"/>
<rect x="1085.5" y="373.5" width="61" height="18" fill="#fff" stroke="#ff0000" stroke-width="1"/>
<text x="1088" y="388.5" class="lb" textLength="57" lengthAdjust="spacingAndGlyphs">1.18660</text>
<rect x="1147.5" y="380.5" width="3" height="3" fill="#fff" stroke="#ff0000"/>
<line x1="1151" y1="382.5" x2="1157" y2="382.5" stroke="#ff0000"/>
<rect x="1245.5" y="393.5" width="61" height="18" fill="#fff" stroke="#ff0000" stroke-width="1"/>
<text x="1248" y="408.5" class="lb" textLength="57" lengthAdjust="spacingAndGlyphs">1.18369</text>
<polyline points="1306,402.5 1316.5,402.5" fill="none" stroke="#ff0000"/>
<rect x="1222" y="379" width="263" height="8" fill="#00ff00"/>
<rect x="1517.5" y="379.5" width="110" height="24" fill="none" stroke="#404040" stroke-width="1"/>
<line x1="1628" y1="382.5" x2="1683" y2="382.5" stroke="#32cd32"/>
<rect x="1570.5" y="377.5" width="3" height="2" fill="none" stroke="#ff00ff" stroke-width="0.8"/>
<line x1="1224.3" y1="151.3" x2="1312.9" y2="392.6" stroke="#ff0000" stroke-width="3.5" stroke-linecap="round"/>
<polygon points="1316,401 1308.7,394.1 1317.1,391.0" fill="#ff0000"/>
<line x1="1316" y1="401" x2="1336.6" y2="306.8" stroke="#ff0000" stroke-width="3.5" stroke-linecap="round"/>
<polygon points="1338.5,298 1341.0,307.8 1332.2,305.8" fill="#ff0000"/>
<line x1="1338.5" y1="298" x2="1359.8" y2="354.6" stroke="#ff0000" stroke-width="3.5" stroke-linecap="round"/>
<polygon points="1363,363 1355.6,356.2 1364.0,353.0" fill="#ff0000"/>
<line x1="1363" y1="363" x2="1382.2" y2="311.1" stroke="#ff0000" stroke-width="3.5" stroke-linecap="round"/>
<polygon points="1385.3,302.7 1386.4,312.7 1378.0,309.6" fill="#ff0000"/>
<line x1="1385.3" y1="302.7" x2="1431.8" y2="423.6" stroke="#ff0000" stroke-width="3.5" stroke-linecap="round"/>
<polygon points="1435,432 1427.6,425.2 1436.0,422.0" fill="#ff0000"/>
<line x1="1244.9" y1="671.6" x2="1300.4" y2="729.9" stroke="#ff0000" stroke-width="3" stroke-linecap="round"/>
<polygon points="1305.9,735.7 1297.5,732.7 1303.3,727.1" fill="#ff0000"/>
<line x1="1305.9" y1="735.7" x2="1421.3" y2="732.4" stroke="#ff0000" stroke-width="3" stroke-linecap="round"/>
<polygon points="1429.3,732.2 1421.4,736.4 1421.2,728.4" fill="#ff0000"/>
<line x1="1220" y1="821.2" x2="1279.2" y2="866.0" stroke="#ff0000" stroke-width="3" stroke-linecap="round"/>
<polygon points="1285.6,870.8 1276.8,869.2 1281.6,862.8" fill="#ff0000"/>
<line x1="1289.4" y1="870" x2="1326.6" y2="853.6" stroke="#ff0000" stroke-width="3" stroke-linecap="round"/>
<polygon points="1333.9,850.4 1328.2,857.3 1325.0,850.0" fill="#ff0000"/>
<line x1="1333.9" y1="849.5" x2="1411.1" y2="851.0" stroke="#ff0000" stroke-width="3" stroke-linecap="round"/>
<polygon points="1419.1,851.2 1411.0,855.0 1411.2,847.0" fill="#ff0000"/></g>
<rect x="0" y="24" width="1684" height="1" fill="#000"/>
<rect x="1683" y="24" width="1" height="554" fill="#000"/>
<rect x="0" y="577" width="1684" height="1" fill="#000"/>
<rect x="0" y="579" width="1684" height="1" fill="#000"/>
<rect x="1683" y="579" width="1" height="171" fill="#000"/>
<rect x="0" y="749" width="1684" height="1" fill="#000"/>
<rect x="0" y="751" width="1684" height="1" fill="#000"/>
<rect x="1683" y="751" width="1" height="175" fill="#000"/>
<rect x="0" y="925" width="1684" height="1" fill="#000"/>
<rect x="1683" y="46" width="3" height="1" fill="#000"/>
<text x="1689" y="50" class="ax">1.23560</text>
<rect x="1683" y="79" width="3" height="1" fill="#000"/>
<text x="1689" y="83" class="ax">1.23080</text>
<rect x="1683" y="112" width="3" height="1" fill="#000"/>
<text x="1689" y="116" class="ax">1.22600</text>
<rect x="1683" y="145" width="3" height="1" fill="#000"/>
<text x="1689" y="149" class="ax">1.22110</text>
<rect x="1683" y="178" width="3" height="1" fill="#000"/>
<text x="1689" y="182" class="ax">1.21630</text>
<rect x="1683" y="211" width="3" height="1" fill="#000"/>
<text x="1689" y="215" class="ax">1.21150</text>
<rect x="1683" y="244" width="3" height="1" fill="#000"/>
<text x="1689" y="248" class="ax">1.20670</text>
<rect x="1683" y="277" width="3" height="1" fill="#000"/>
<text x="1689" y="281" class="ax">1.20190</text>
<rect x="1683" y="310" width="3" height="1" fill="#000"/>
<text x="1689" y="314" class="ax">1.19710</text>
<rect x="1683" y="375" width="3" height="1" fill="#000"/>
<text x="1689" y="379" class="ax">1.18740</text>
<rect x="1683" y="409" width="3" height="1" fill="#000"/>
<text x="1689" y="413" class="ax">1.18260</text>
<rect x="1683" y="442" width="3" height="1" fill="#000"/>
<text x="1689" y="446" class="ax">1.17780</text>
<rect x="1683" y="475" width="3" height="1" fill="#000"/>
<text x="1689" y="479" class="ax">1.17300</text>
<rect x="1683" y="508" width="3" height="1" fill="#000"/>
<text x="1689" y="512" class="ax">1.16820</text>
<rect x="1683" y="541" width="3" height="1" fill="#000"/>
<text x="1689" y="545" class="ax">1.16340</text>
<rect x="1683" y="574" width="3" height="1" fill="#000"/>
<text x="1689" y="578" class="ax">1.15850</text>
<rect x="1685" y="336" width="41" height="11" fill="#ff5a00"/>
<text x="1689" y="345" class="ax" style="fill:#fff;stroke:#fff">1.19243</text>
<rect x="1685" y="356" width="41" height="11" fill="#ff0000"/>
<text x="1689" y="365" class="ax" style="fill:#fff;stroke:#fff">1.18952</text>
<rect x="1685" y="376" width="41" height="11" fill="#32cd32"/>
<text x="1689" y="385" class="ax" style="fill:#fff;stroke:#fff">1.18660</text>
<rect x="1685" y="389" width="41" height="11" fill="#000000"/>
<text x="1689" y="398" class="ax" style="fill:#fff;stroke:#fff">1.18486</text>
<rect x="1685" y="410" width="41" height="11" fill="#0000ff"/>
<text x="1689" y="419" class="ax" style="fill:#fff;stroke:#fff">1.18165</text>
<rect x="1685" y="432" width="41" height="11" fill="#0000ff"/>
<text x="1689" y="441" class="ax" style="fill:#fff;stroke:#fff">1.17845</text>
<rect x="1683" y="581" width="3" height="1" fill="#000"/>
<rect x="1683" y="681" width="3" height="1" fill="#000"/>
<rect x="1683" y="747" width="3" height="1" fill="#000"/>
<text x="1687" y="591" class="ax">0.009212</text>
<text x="1687" y="686" class="ax">0.00</text>
<text x="1686.5" y="747" class="ax" textLength="41" lengthAdjust="spacingAndGlyphs">-0.006215</text>
<text x="1688" y="762" class="ax">100</text>
<text x="1688" y="791" class="ax">80</text>
<text x="1688" y="842" class="ax">50</text>
<text x="1688" y="903" class="ax">15</text>
<text x="1688" y="922" class="ax">0</text>
<rect x="60" y="925" width="1" height="4" fill="#000"/>
<text x="59" y="938" class="ax">4 Sep 2020</text>
<rect x="124" y="925" width="1" height="4" fill="#000"/>
<text x="123" y="938" class="ax">14 Sep 2020</text>
<rect x="188" y="925" width="1" height="4" fill="#000"/>
<text x="187" y="938" class="ax">23 Sep 2020</text>
<rect x="252" y="925" width="1" height="4" fill="#000"/>
<text x="251" y="938" class="ax">2 Oct 2020</text>
<rect x="316" y="925" width="1" height="4" fill="#000"/>
<text x="315" y="938" class="ax">12 Oct 2020</text>
<rect x="380" y="925" width="1" height="4" fill="#000"/>
<text x="379" y="938" class="ax">21 Oct 2020</text>
<rect x="444" y="925" width="1" height="4" fill="#000"/>
<text x="443" y="938" class="ax">30 Oct 2020</text>
<rect x="508" y="925" width="1" height="4" fill="#000"/>
<text x="507" y="938" class="ax">9 Nov 2020</text>
<rect x="572" y="925" width="1" height="4" fill="#000"/>
<text x="571" y="938" class="ax">18 Nov 2020</text>
<rect x="636" y="925" width="1" height="4" fill="#000"/>
<text x="635" y="938" class="ax">27 Nov 2020</text>
<rect x="700" y="925" width="1" height="4" fill="#000"/>
<text x="699" y="938" class="ax">7 Dec 2020</text>
<rect x="764" y="925" width="1" height="4" fill="#000"/>
<text x="763" y="938" class="ax">16 Dec 2020</text>
<rect x="828" y="925" width="1" height="4" fill="#000"/>
<text x="827" y="938" class="ax">27 Dec 2020</text>
<rect x="892" y="925" width="1" height="4" fill="#000"/>
<text x="891" y="938" class="ax">6 Jan 2021</text>
<rect x="956" y="925" width="1" height="4" fill="#000"/>
<text x="955" y="938" class="ax">15 Jan 2021</text>
<rect x="1020" y="925" width="1" height="4" fill="#000"/>
<text x="1019" y="938" class="ax">25 Jan 2021</text>
<rect x="1084" y="925" width="1" height="4" fill="#000"/>
<text x="1083" y="938" class="ax">3 Feb 2021</text>
<rect x="1148" y="925" width="1" height="4" fill="#000"/>
<text x="1147" y="938" class="ax">12 Feb 2021</text>
<rect x="1212" y="925" width="1" height="4" fill="#000"/>
<text x="1211" y="938" class="ax">22 Feb 2021</text>
<rect x="1276" y="925" width="1" height="4" fill="#000"/>
<text x="1275" y="938" class="ax">3 Mar 2021</text>
<rect x="1340" y="925" width="1" height="4" fill="#000"/>
<text x="1339" y="938" class="ax">12 Mar 2021</text>
<rect x="1404" y="925" width="1" height="4" fill="#000"/>
<text x="1403" y="938" class="ax">22 Mar 2021</text>
<text x="-1" y="938" class="ax">6 Aug 2020</text>
<text x="0.5" y="592" class="ax" textLength="153" lengthAdjust="spacingAndGlyphs">MACD(12,26,9) -0.004561 -0.004501</text>
<text x="0.5" y="764" class="ax" textLength="67.5" lengthAdjust="spacingAndGlyphs">RSI(14) 38.4158</text>
<text x="11" y="36" class="ax" textLength="214" lengthAdjust="spacingAndGlyphs" style="white-space:pre">EURUSD-,Daily  1.19320 1.19400 1.18415 1.18486</text>
<polygon points="0,35 3,30 6,35" fill="#000"/>

<defs>
<linearGradient id="gtab" x1="0" y1="0" x2="0" y2="1"><stop offset="0" stop-color="#f85858"/><stop offset="1" stop-color="#de2e2e"/></linearGradient>
<linearGradient id="gblk" x1="0" y1="0" x2="0" y2="1"><stop offset="0" stop-color="#dc2a2a"/><stop offset="1" stop-color="#b20606"/></linearGradient>
<linearGradient id="gbtn" x1="0" y1="0" x2="0" y2="1"><stop offset="0" stop-color="#f4f4f4"/><stop offset="0.45" stop-color="#e6e6e6"/><stop offset="0.5" stop-color="#d6d6d6"/><stop offset="1" stop-color="#cccccc"/></linearGradient>
</defs>
<rect x="50" y="44" width="117" height="24" fill="#fff"/>
<rect x="0" y="44" width="51" height="24" fill="url(#gtab)"/>
<rect x="0" y="44" width="51" height="1" fill="#c01010"/>
<rect x="50" y="44" width="1" height="24" fill="#c01010"/>
<rect x="166" y="44" width="52" height="24" fill="url(#gtab)"/>
<rect x="166" y="44" width="52" height="1" fill="#c01010"/>
<rect x="166" y="44" width="1" height="24" fill="#c01010"/>
<rect x="217" y="44" width="1" height="64" fill="#c01010"/>
<rect x="0" y="68" width="108" height="40" fill="url(#gblk)"/>
<rect x="110" y="68" width="108" height="40" fill="url(#gblk)"/>
<rect x="0" y="107" width="108" height="1" fill="#a00000"/>
<rect x="110" y="107" width="108" height="1" fill="#a00000"/>
<rect x="3" y="67" width="44" height="1" fill="#900000"/>
<rect x="3" y="68" width="44" height="1" fill="#f06060"/>
<rect x="170" y="67" width="44" height="1" fill="#900000"/>
<rect x="170" y="68" width="44" height="1" fill="#f06060"/>
<rect x="53.5" y="44.5" width="110" height="21" fill="#fff" stroke="#a8acb4"/>
<rect x="54" y="45" width="20" height="20" fill="url(#gbtn)" stroke="#b8bcc4" stroke-width="0.8"/>
<rect x="143" y="45" width="20" height="20" fill="url(#gbtn)" stroke="#b8bcc4" stroke-width="0.8"/>
<polygon points="61,54 67,54 64,57" fill="#5060c0"/>
<polygon points="150,57 156,57 153,54" fill="#5060c0"/>
<text x="139" y="59" text-anchor="end" style="font-size:12.5px;fill:#000">1.00</text>
<text x="11" y="60" style="font-size:12.5px;fill:#fff" textLength="26" lengthAdjust="spacingAndGlyphs">SELL</text>
<text x="179.5" y="60" style="font-size:12.5px;fill:#fff" textLength="23.5" lengthAdjust="spacingAndGlyphs">BUY</text>
<text x="19" y="99" style="font-size:12px;fill:#fff;font-weight:bold;letter-spacing:-0.5px">1.18</text>
<text x="45" y="99" style="font-size:33px;fill:#fff">48</text>
<text x="86" y="83" style="font-size:11px;fill:#fff;font-weight:bold">6</text>
<text x="129" y="99" style="font-size:12px;fill:#fff;font-weight:bold;letter-spacing:-0.5px">1.18</text>
<text x="158" y="99" style="font-size:33px;fill:#fff">50</text>
<text x="197" y="83" style="font-size:11px;fill:#fff;font-weight:bold">1</text>

<g shape-rendering="auto"><rect x="-4" y="1.5" width="10" height="13" fill="#fff" stroke="#3a6fd0" stroke-width="1"/>
<rect x="0" y="4" width="5" height="1" fill="#8fb0e8"/>
<rect x="0" y="6" width="5" height="1" fill="#8fb0e8"/>
<rect x="0" y="8" width="5" height="1" fill="#8fb0e8"/>
<rect x="0" y="10" width="5" height="1" fill="#8fb0e8"/>
<rect x="0" y="12" width="5" height="1" fill="#8fb0e8"/>
<rect x="19.5" y="0.5" width="12" height="13" fill="#f4f4f4" stroke="#909090"/>
<circle cx="27" cy="8" r="4.5" fill="#d8e8f8" stroke="#6a9ad8" stroke-width="1.3"/>
<line x1="30" y1="11" x2="36" y2="17" stroke="#d0a020" stroke-width="2.5"/>
<rect x="44" y="1" width="1" height="17" fill="#a0a0a0"/><rect x="45" y="1" width="1" height="17" fill="#ffffff"/>
<path d="M54.5,0.5 h9 l3,3 v11 h-12 z" fill="#fafafa" stroke="#707070"/>
<rect x="56" y="3" width="5" height="1" fill="#808080"/><rect x="56" y="7" width="6" height="1" fill="#909090"/>
<path d="M62,6 h4 v4 h4 v4 h-4 v4 h-4 v-4 h-4 v-4 h4 z" fill="#30d030" stroke="#0a8a0a" stroke-width="0.8"/>
<g shape-rendering="crispEdges"><polyline points="76.3,1.5 76.3,2.9" fill="none" stroke="#000" stroke-width="1.0" stroke-linecap="square" stroke-linejoin="miter"/>
<polyline points="73.5,3.8 79.2,3.8" fill="none" stroke="#000" stroke-width="1.0" stroke-linecap="square" stroke-linejoin="miter"/>
<polyline points="74.9,4.7 75.6,6.0" fill="none" stroke="#000" stroke-width="1.0" stroke-linecap="square" stroke-linejoin="miter"/>
<polyline points="78.1,4.7 77.3,6.0" fill="none" stroke="#000" stroke-width="1.0" stroke-linecap="square" stroke-linejoin="miter"/>
<polyline points="73.5,6.9 79.2,6.9" fill="none" stroke="#000" stroke-width="1.0" stroke-linecap="square" stroke-linejoin="miter"/>
<polyline points="76.3,6.9 76.3,12.3" fill="none" stroke="#000" stroke-width="1.0" stroke-linecap="square" stroke-linejoin="miter"/>
<polyline points="73.8,10.1 79.0,9.2" fill="none" stroke="#000" stroke-width="1.0" stroke-linecap="square" stroke-linejoin="miter"/>
<polyline points="84.4,2.2 81.1,3.3" fill="none" stroke="#000" stroke-width="1.0" stroke-linecap="square" stroke-linejoin="miter"/>
<polyline points="81.1,3.3 81.1,7.8 80.2,12.3" fill="none" stroke="#000" stroke-width="1.0" stroke-linecap="square" stroke-linejoin="miter"/>
<polyline points="81.1,6.9 84.9,6.9" fill="none" stroke="#000" stroke-width="1.0" stroke-linecap="square" stroke-linejoin="miter"/>
<polyline points="83.3,6.9 83.3,12.3" fill="none" stroke="#000" stroke-width="1.0" stroke-linecap="square" stroke-linejoin="miter"/>
<polyline points="86.8,2.2 88.0,3.6" fill="none" stroke="#000" stroke-width="1.0" stroke-linecap="square" stroke-linejoin="miter"/>
<polyline points="85.8,6.0 87.9,6.0 87.9,11.4 89.6,10.1" fill="none" stroke="#000" stroke-width="1.0" stroke-linecap="square" stroke-linejoin="miter"/>
<polyline points="90.5,3.3 97.2,3.3" fill="none" stroke="#000" stroke-width="1.0" stroke-linecap="square" stroke-linejoin="miter"/>
<polyline points="94.3,3.3 94.3,11.8 92.6,11.0" fill="none" stroke="#000" stroke-width="1.0" stroke-linecap="square" stroke-linejoin="miter"/>
<polyline points="100.9,1.5 101.9,2.9" fill="none" stroke="#000" stroke-width="1.0" stroke-linecap="square" stroke-linejoin="miter"/>
<polyline points="106.6,1.5 105.7,2.9" fill="none" stroke="#000" stroke-width="1.0" stroke-linecap="square" stroke-linejoin="miter"/>
<polyline points="100.0,3.8 107.6,3.8 107.6,8.2 100.0,8.2 100.0,3.8" fill="none" stroke="#000" stroke-width="1.0" stroke-linecap="square" stroke-linejoin="miter"/>
<polyline points="100.0,6.0 107.6,6.0" fill="none" stroke="#000" stroke-width="1.0" stroke-linecap="square" stroke-linejoin="miter"/>
<polyline points="103.8,3.8 103.8,12.3" fill="none" stroke="#000" stroke-width="1.0" stroke-linecap="square" stroke-linejoin="miter"/>
<polyline points="98.1,10.1 109.5,10.1" fill="none" stroke="#000" stroke-width="1.0" stroke-linecap="square" stroke-linejoin="miter"/></g>
<path d="M122,8 l7,-7 l8,6 l-7,8 z" fill="#e8b830" stroke="#a06a10" stroke-width="1"/>
<path d="M122,8 l0,2 l8,7 l7,-8 v-2" fill="none" stroke="#a06a10" stroke-width="1"/>
<path d="M151,1 l3,-1 h7 v10 h-10 z" fill="#5aaaf0" stroke="#2a70c8" stroke-width="0.8"/>
<rect x="155" y="3" width="5" height="1.5" fill="#fff"/><rect x="155" y="6" width="4" height="1" fill="#fff"/>
<path d="M150.5,15.5 a2.5,2.5 0 0 1 1,-5 a3.5,3.5 0 0 1 6.5,-1.5 a3,3 0 0 1 5,2 a2.3,2.3 0 0 1 1,4.5 z" fill="#f4f6fb" stroke="#7a88a8" stroke-width="1"/>
<circle cx="185" cy="8" r="7" fill="none" stroke="#a8c0e8" stroke-width="1"/>
<circle cx="185" cy="8" r="5" fill="none" stroke="#7a9ad8" stroke-width="1"/>
<circle cx="185" cy="8" r="3" fill="none" stroke="#3a70d0" stroke-width="1"/>
<circle cx="185" cy="8" r="1.3" fill="#2060d0"/>
<path d="M185,8 v8 h4" fill="none" stroke="#20b020" stroke-width="1.5"/>
<ellipse cx="212" cy="4" rx="8" ry="3" fill="#6ab0e8" stroke="#3070b0" stroke-width="0.8"/>
<path d="M205,6 l8,9 l7,-9 z" fill="#f0d040" stroke="#b09020" stroke-width="0.8"/>
<circle cx="216" cy="12" r="4.3" fill="#e02010"/>
<rect x="214.5" y="10.5" width="3" height="3" fill="#fff"/>
<g shape-rendering="crispEdges"><polyline points="232.2,1.5 231.2,3.3" fill="none" stroke="#000" stroke-width="1.0" stroke-linecap="square" stroke-linejoin="miter"/>
<polyline points="228.9,3.8 235.5,3.8 235.5,12.3 228.9,12.3 228.9,3.8" fill="none" stroke="#000" stroke-width="1.0" stroke-linecap="square" stroke-linejoin="miter"/>
<polyline points="228.9,6.5 235.5,6.5" fill="none" stroke="#000" stroke-width="1.0" stroke-linecap="square" stroke-linejoin="miter"/>
<polyline points="228.9,9.3 235.5,9.3" fill="none" stroke="#000" stroke-width="1.0" stroke-linecap="square" stroke-linejoin="miter"/>
<polyline points="238.8,3.3 243.1,3.3" fill="none" stroke="#000" stroke-width="1.0" stroke-linecap="square" stroke-linejoin="miter"/>
<polyline points="238.3,6.0 244.0,6.0" fill="none" stroke="#000" stroke-width="1.0" stroke-linecap="square" stroke-linejoin="miter"/>
<polyline points="241.2,6.0 239.2,10.5 244.0,9.6" fill="none" stroke="#000" stroke-width="1.0" stroke-linecap="square" stroke-linejoin="miter"/>
<polyline points="243.1,8.7 244.0,11.0" fill="none" stroke="#000" stroke-width="1.0" stroke-linecap="square" stroke-linejoin="miter"/>
<polyline points="244.0,5.1 249.2,5.1 249.0,11.8 247.3,11.4" fill="none" stroke="#000" stroke-width="1.0" stroke-linecap="square" stroke-linejoin="miter"/>
<polyline points="246.9,1.5 246.9,6.0 244.0,12.3" fill="none" stroke="#000" stroke-width="1.0" stroke-linecap="square" stroke-linejoin="miter"/>
<polyline points="255.8,1.5 255.8,3.3" fill="none" stroke="#000" stroke-width="1.0" stroke-linecap="square" stroke-linejoin="miter"/>
<polyline points="250.1,4.2 261.5,4.2" fill="none" stroke="#000" stroke-width="1.0" stroke-linecap="square" stroke-linejoin="miter"/>
<polyline points="253.9,5.5 252.0,7.4" fill="none" stroke="#000" stroke-width="1.0" stroke-linecap="square" stroke-linejoin="miter"/>
<polyline points="257.7,5.5 259.6,7.4" fill="none" stroke="#000" stroke-width="1.0" stroke-linecap="square" stroke-linejoin="miter"/>
<polyline points="252.9,7.8 259.6,12.3" fill="none" stroke="#000" stroke-width="1.0" stroke-linecap="square" stroke-linejoin="miter"/>
<polyline points="258.6,7.8 251.0,12.3" fill="none" stroke="#000" stroke-width="1.0" stroke-linecap="square" stroke-linejoin="miter"/>
<polyline points="264.8,1.5 270.4,1.5 270.4,6.0 264.8,6.0 264.8,1.5" fill="none" stroke="#000" stroke-width="1.0" stroke-linecap="square" stroke-linejoin="miter"/>
<polyline points="264.8,3.8 270.4,3.8" fill="none" stroke="#000" stroke-width="1.0" stroke-linecap="square" stroke-linejoin="miter"/>
<polyline points="265.7,6.0 262.8,9.2" fill="none" stroke="#000" stroke-width="1.0" stroke-linecap="square" stroke-linejoin="miter"/>
<polyline points="264.8,7.8 272.8,7.8 271.9,12.3 270.0,11.7" fill="none" stroke="#000" stroke-width="1.0" stroke-linecap="square" stroke-linejoin="miter"/>
<polyline points="268.1,7.8 265.2,12.3" fill="none" stroke="#000" stroke-width="1.0" stroke-linecap="square" stroke-linejoin="miter"/>
<polyline points="270.7,7.8 268.1,12.3" fill="none" stroke="#000" stroke-width="1.0" stroke-linecap="square" stroke-linejoin="miter"/></g>
<rect x="280" y="1" width="1" height="17" fill="#a0a0a0"/><rect x="281" y="1" width="1" height="17" fill="#ffffff"/>
<rect x="283" y="2" width="4" height="1" fill="#b4b4b4"/>
<rect x="283" y="4" width="4" height="1" fill="#b4b4b4"/>
<rect x="283" y="6" width="4" height="1" fill="#b4b4b4"/>
<rect x="283" y="8" width="4" height="1" fill="#b4b4b4"/>
<rect x="283" y="10" width="4" height="1" fill="#b4b4b4"/>
<rect x="283" y="12" width="4" height="1" fill="#b4b4b4"/>
<rect x="283" y="14" width="4" height="1" fill="#b4b4b4"/>
<rect x="283" y="16" width="4" height="1" fill="#b4b4b4"/>
<path d="M298.5,2 v12.5 h12" fill="none" stroke="#505050" stroke-width="1"/>
<path d="M297,4 l1.5,-2 l1.5,2 M309,13 l2,1.5 l-2,1.5" fill="none" stroke="#505050" stroke-width="1"/>
<path d="M304,3 v8 M304,3 h2 M304,11 h-2" fill="none" stroke="#209020" stroke-width="1.2"/>
<rect x="318" y="0" width="25" height="18" fill="#f7f7f7"/>
<rect x="318" y="0" width="1" height="18" fill="#b8b8b8"/>
<path d="M326.5,2 v12.5 h12" fill="none" stroke="#505050" stroke-width="1"/>
<path d="M325,4 l1.5,-2 l1.5,2 M337,13 l2,1.5 l-2,1.5" fill="none" stroke="#505050" stroke-width="1"/>
<rect x="329.5" y="2.5" width="4" height="7" fill="#30d030" stroke="#108010"/><rect x="331" y="0" width="1" height="13" fill="#108010"/>
<path d="M354.5,2 v12.5 h12" fill="none" stroke="#505050" stroke-width="1"/>
<path d="M353,4 l1.5,-2 l1.5,2 M365,13 l2,1.5 l-2,1.5" fill="none" stroke="#505050" stroke-width="1"/>
<path d="M355,11 l4,-5 l6,4" fill="none" stroke="#30a030" stroke-width="1.2"/>
<rect x="375" y="1" width="1" height="17" fill="#a0a0a0"/><rect x="376" y="1" width="1" height="17" fill="#ffffff"/>
<line x1="393" y1="8" x2="399" y2="14" stroke="#c8a020" stroke-width="2.5"/>
<circle cx="390" cy="6" r="5.3" fill="#c8e0f8" stroke="#3a80d0" stroke-width="1.3"/>
<rect x="387" y="5.3" width="6" height="1.6" fill="#3a70c0"/>
<rect x="389.2" y="3" width="1.6" height="6" fill="#3a70c0"/>
<line x1="421" y1="8" x2="427" y2="14" stroke="#c8a020" stroke-width="2.5"/>
<circle cx="418" cy="6" r="5.3" fill="#c8e0f8" stroke="#3a80d0" stroke-width="1.3"/>
<rect x="415" y="5.3" width="6" height="1.6" fill="#3a70c0"/>
<rect x="440" y="0" width="8" height="8" fill="#30a030"/><rect x="441.5" y="3" width="5" height="2" fill="#fff"/>
<rect x="448" y="0" width="8" height="8" fill="#2050d0"/><rect x="449.5" y="3" width="5" height="2" fill="#fff"/>
<rect x="440" y="8" width="8" height="8" fill="#2050d0"/><rect x="441.5" y="11" width="5" height="2" fill="#fff"/>
<rect x="448" y="8" width="8" height="8" fill="#30a030"/><rect x="449.5" y="11" width="5" height="2" fill="#fff"/>
<rect x="465" y="1" width="1" height="17" fill="#a0a0a0"/><rect x="466" y="1" width="1" height="17" fill="#ffffff"/>
<rect x="470" y="0" width="25" height="18" fill="#f7f7f7"/>
<rect x="470" y="0" width="1" height="18" fill="#b8b8b8"/>
<path d="M478.5,2 v12.5 h12" fill="none" stroke="#505050" stroke-width="1"/>
<path d="M477,4 l1.5,-2 l1.5,2 M489,13 l2,1.5 l-2,1.5" fill="none" stroke="#505050" stroke-width="1"/>
<polygon points="484,3 484,9 488,6" fill="#20b020"/>
<rect x="498" y="0" width="25" height="18" fill="#f7f7f7"/>
<rect x="498" y="0" width="1" height="18" fill="#b8b8b8"/>
<path d="M506.5,2 v12.5 h12" fill="none" stroke="#505050" stroke-width="1"/>
<path d="M505,4 l1.5,-2 l1.5,2 M517,13 l2,1.5 l-2,1.5" fill="none" stroke="#505050" stroke-width="1"/>
<rect x="512" y="1" width="1" height="11" fill="#2060c0"/><polygon points="514,6 518,4 518,8" fill="#e04010"/>
<rect x="527" y="1" width="1" height="17" fill="#a0a0a0"/><rect x="528" y="1" width="1" height="17" fill="#ffffff"/>
<path d="M537.5,0.5 h8 l3,3 v10 h-11 z" fill="#fafafa" stroke="#707070"/>
<path d="M544,7 h3 v3 h3 v3 h-3 v3 h-3 v-3 h-3 v-3 h3 z" fill="#22c022" stroke="#0a8a0a" stroke-width="0.8"/>
<polygon points="559,7 565,7 562,10" fill="#000"/>
<circle cx="583" cy="8" r="7.5" fill="#2a7ae0"/><circle cx="583" cy="8" r="5.3" fill="#f4f8ff"/><path d="M583,4.5 v3.5 h3" fill="none" stroke="#333" stroke-width="1"/>
<polygon points="598,7 604,7 601,10" fill="#000"/>
<rect x="614.5" y="1.5" width="16" height="13" fill="#fff" stroke="#2a60c0" stroke-width="1"/><rect x="615" y="2" width="15" height="2" fill="#4a80d8"/>
<path d="M616,8 l3,-1 l3,1 l3,-1 l3,0" fill="none" stroke="#c03020"/><path d="M616,12 l3,-1 l3,1 l3,-2 l3,1" fill="none" stroke="#20a020"/>
<polygon points="637,7 643,7 640,10" fill="#000"/>
<rect x="648" y="1" width="1" height="17" fill="#a0a0a0"/><rect x="649" y="1" width="1" height="17" fill="#ffffff"/>
<rect x="652" y="2" width="4" height="1" fill="#b4b4b4"/>
<rect x="652" y="4" width="4" height="1" fill="#b4b4b4"/>
<rect x="652" y="6" width="4" height="1" fill="#b4b4b4"/>
<rect x="652" y="8" width="4" height="1" fill="#b4b4b4"/>
<rect x="652" y="10" width="4" height="1" fill="#b4b4b4"/>
<rect x="652" y="12" width="4" height="1" fill="#b4b4b4"/>
<rect x="652" y="14" width="4" height="1" fill="#b4b4b4"/>
<rect x="652" y="16" width="4" height="1" fill="#b4b4b4"/>
<rect x="659" y="0" width="24" height="18" fill="#f7f7f7"/>
<rect x="659" y="0" width="1" height="18" fill="#b8b8b8"/>
<path d="M666,1 v13 l3,-3 l2.5,5 l2,-1 l-2.5,-5 h4 z" fill="#404040"/>
<path d="M691,8.5 h6 M700,8.5 h6 M698.5,1 v6 M698.5,10 v6" fill="none" stroke="#404040" stroke-width="1"/>
<rect x="715" y="1" width="1" height="17" fill="#a0a0a0"/><rect x="716" y="1" width="1" height="17" fill="#ffffff"/>
<rect x="732" y="3" width="1" height="12" fill="#404040"/>
<rect x="755" y="8" width="12" height="1" fill="#404040"/>
<line x1="795" y1="3" x2="783" y2="15" stroke="#404040" stroke-width="1"/>
<path d="M810,10 l8,-8 M810,14 l8,-8 M812,8 v5 M815,5 v5" fill="none" stroke="#404040" stroke-width="1"/>
<text x="820" y="16" style="font-size:7px;fill:#404040;font-weight:bold">E</text>
<line x1="838" y1="1.5" x2="848" y2="1.5" stroke="#505050" stroke-width="1" stroke-dasharray="1,1"/>
<line x1="838" y1="4.5" x2="848" y2="4.5" stroke="#505050" stroke-width="1" stroke-dasharray="1,1"/>
<line x1="838" y1="8.5" x2="848" y2="8.5" stroke="#505050" stroke-width="1" stroke-dasharray="1,1"/>
<line x1="838" y1="12.5" x2="848" y2="12.5" stroke="#505050" stroke-width="1" stroke-dasharray="1,1"/>
<text x="848" y="17" style="font-size:7px;fill:#404040;font-weight:bold">F</text>
<text x="869" y="13" style="font-size:12px;fill:#505050;font-weight:bold">A</text>
<rect x="895.5" y="1.5" width="12" height="13" fill="none" stroke="#606060" stroke-dasharray="1,1"/>
<text x="897" y="12.5" style="font-size:11px;fill:#505050;font-weight:bold">T</text>
<path d="M923,4 l3,-2 l3,2 l-3,2 z M931,12 l3,-2 l3,2 l-3,2 z" fill="#404040"/><path d="M925,8 l3,3 l4,-6" fill="none" stroke="#404040" stroke-width="1.3"/>
<polygon points="943,7 949,7 946,10" fill="#000"/>
<rect x="954" y="1" width="1" height="17" fill="#a0a0a0"/><rect x="955" y="1" width="1" height="17" fill="#ffffff"/>
<rect x="957" y="2" width="4" height="1" fill="#b4b4b4"/>
<rect x="957" y="4" width="4" height="1" fill="#b4b4b4"/>
<rect x="957" y="6" width="4" height="1" fill="#b4b4b4"/>
<rect x="957" y="8" width="4" height="1" fill="#b4b4b4"/>
<rect x="957" y="10" width="4" height="1" fill="#b4b4b4"/>
<rect x="957" y="12" width="4" height="1" fill="#b4b4b4"/>
<rect x="957" y="14" width="4" height="1" fill="#b4b4b4"/>
<rect x="957" y="16" width="4" height="1" fill="#b4b4b4"/>
<rect x="1132" y="0" width="25" height="18" fill="#f7f7f7"/>
<rect x="1132" y="0" width="1" height="18" fill="#b8b8b8"/>
<text x="970" y="12" style="font-size:9.8px;fill:#404040;letter-spacing:-0.2px">M1</text>
<text x="998" y="12" style="font-size:9.8px;fill:#404040;letter-spacing:-0.2px">M5</text>
<text x="1024" y="12" style="font-size:9.8px;fill:#404040;letter-spacing:-0.2px">M15</text>
<text x="1052" y="12" style="font-size:9.8px;fill:#404040;letter-spacing:-0.2px">M30</text>
<text x="1082" y="12" style="font-size:9.8px;fill:#404040;letter-spacing:-0.2px">H1</text>
<text x="1109" y="12" style="font-size:9.8px;fill:#404040;letter-spacing:-0.2px">H4</text>
<text x="1138" y="12" style="font-size:9.8px;fill:#404040;letter-spacing:-0.2px">D1</text>
<text x="1166" y="12" style="font-size:9.8px;fill:#404040;letter-spacing:-0.2px">W1</text>
<text x="1192" y="12" style="font-size:9.8px;fill:#404040;letter-spacing:-0.2px">MN</text>
<rect x="1215" y="1" width="1" height="17" fill="#a0a0a0"/><rect x="1216" y="1" width="1" height="17" fill="#ffffff"/>
<circle cx="1685.5" cy="5.3" r="3.7" fill="#f0f0ff" stroke="#2a60d0" stroke-width="1.5"/>
<line x1="1682.5" y1="8.5" x2="1678" y2="13" stroke="#2a60d0" stroke-width="2"/>
<ellipse cx="1709" cy="10" rx="6.5" ry="4.5" fill="#e4e4ec" stroke="#a8a8a8"/>
<path d="M1705,13 l-1,4 l4,-3" fill="#c8c8d0" stroke="#909090" stroke-width="0.8"/>
<circle cx="1716.5" cy="5.3" r="7.8" fill="#e03018"/>
<text x="1713.5" y="10" style="font-size:10px;fill:#fff">1</text></g>
<g shape-rendering="crispEdges"><polyline points="1527.5,381.5 1522.8,386.5" fill="none" stroke="#00ff00" stroke-width="1.3" stroke-linecap="square" stroke-linejoin="miter"/>
<polyline points="1524.7,384.0 1532.3,384.0 1522.8,391.5" fill="none" stroke="#00ff00" stroke-width="1.3" stroke-linecap="square" stroke-linejoin="miter"/>
<polyline points="1526.1,386.5 1529.5,389.0" fill="none" stroke="#00ff00" stroke-width="1.3" stroke-linecap="square" stroke-linejoin="miter"/>
<polyline points="1529.5,389.5 1523.8,394.5" fill="none" stroke="#00ff00" stroke-width="1.3" stroke-linecap="square" stroke-linejoin="miter"/>
<polyline points="1526.6,392.0 1535.2,392.0 1521.8,400.5" fill="none" stroke="#00ff00" stroke-width="1.3" stroke-linecap="square" stroke-linejoin="miter"/>
<polyline points="1528.0,395.0 1531.3,397.5" fill="none" stroke="#00ff00" stroke-width="1.3" stroke-linecap="square" stroke-linejoin="miter"/>
<polyline points="1549.5,381.5 1549.5,383.5" fill="none" stroke="#00ff00" stroke-width="1.3" stroke-linecap="square" stroke-linejoin="miter"/>
<polyline points="1542.0,387.5 1542.0,384.5 1557.2,384.5 1557.2,387.5" fill="none" stroke="#00ff00" stroke-width="1.3" stroke-linecap="square" stroke-linejoin="miter"/>
<polyline points="1547.7,386.5 1544.8,390.5" fill="none" stroke="#00ff00" stroke-width="1.3" stroke-linecap="square" stroke-linejoin="miter"/>
<polyline points="1551.5,386.5 1555.2,390.5" fill="none" stroke="#00ff00" stroke-width="1.3" stroke-linecap="square" stroke-linejoin="miter"/>
<polyline points="1544.8,392.5 1554.3,392.5" fill="none" stroke="#00ff00" stroke-width="1.3" stroke-linecap="square" stroke-linejoin="miter"/>
<polyline points="1549.5,392.5 1549.5,399.5" fill="none" stroke="#00ff00" stroke-width="1.3" stroke-linecap="square" stroke-linejoin="miter"/>
<polyline points="1542.0,399.5 1557.2,399.5" fill="none" stroke="#00ff00" stroke-width="1.3" stroke-linecap="square" stroke-linejoin="miter"/>
<polyline points="1563.0,385.5 1569.7,385.5" fill="none" stroke="#00ff00" stroke-width="1.3" stroke-linecap="square" stroke-linejoin="miter"/>
<polyline points="1567.3,382.0 1564.4,392.5 1570.1,392.0" fill="none" stroke="#00ff00" stroke-width="1.3" stroke-linecap="square" stroke-linejoin="miter"/>
<polyline points="1567.3,388.5 1567.3,400.5" fill="none" stroke="#00ff00" stroke-width="1.3" stroke-linecap="square" stroke-linejoin="miter"/>
<polyline points="1563.0,397.0 1570.6,395.5" fill="none" stroke="#00ff00" stroke-width="1.3" stroke-linecap="square" stroke-linejoin="miter"/>
<polyline points="1571.5,386.5 1579.6,386.5" fill="none" stroke="#00ff00" stroke-width="1.3" stroke-linecap="square" stroke-linejoin="miter"/>
<polyline points="1572.5,390.5 1580.1,390.5" fill="none" stroke="#00ff00" stroke-width="1.3" stroke-linecap="square" stroke-linejoin="miter"/>
<polyline points="1575.8,382.5 1573.9,394.0 1579.2,394.0 1576.3,398.5" fill="none" stroke="#00ff00" stroke-width="1.3" stroke-linecap="square" stroke-linejoin="miter"/>
<polyline points="1574.4,396.5 1578.2,400.5" fill="none" stroke="#00ff00" stroke-width="1.3" stroke-linecap="square" stroke-linejoin="miter"/>
<polyline points="1585.0,387.5 1591.7,387.5" fill="none" stroke="#00ff00" stroke-width="1.3" stroke-linecap="square" stroke-linejoin="miter"/>
<polyline points="1588.8,382.0 1588.8,400.0 1586.9,398.5" fill="none" stroke="#00ff00" stroke-width="1.3" stroke-linecap="square" stroke-linejoin="miter"/>
<polyline points="1585.0,395.0 1592.1,392.5" fill="none" stroke="#00ff00" stroke-width="1.3" stroke-linecap="square" stroke-linejoin="miter"/>
<polyline points="1601.2,382.5 1595.0,384.5" fill="none" stroke="#00ff00" stroke-width="1.3" stroke-linecap="square" stroke-linejoin="miter"/>
<polyline points="1595.0,384.5 1595.0,391.5 1593.1,400.0" fill="none" stroke="#00ff00" stroke-width="1.3" stroke-linecap="square" stroke-linejoin="miter"/>
<polyline points="1595.0,390.5 1602.1,390.5" fill="none" stroke="#00ff00" stroke-width="1.3" stroke-linecap="square" stroke-linejoin="miter"/>
<polyline points="1598.8,390.5 1598.8,400.5" fill="none" stroke="#00ff00" stroke-width="1.3" stroke-linecap="square" stroke-linejoin="miter"/>
<polyline points="1615.5,381.5 1615.5,389.5" fill="none" stroke="#00ff00" stroke-width="1.3" stroke-linecap="square" stroke-linejoin="miter"/>
<polyline points="1615.5,385.5 1621.2,385.5" fill="none" stroke="#00ff00" stroke-width="1.3" stroke-linecap="square" stroke-linejoin="miter"/>
<polyline points="1610.8,389.5 1620.3,389.5 1620.3,395.0 1610.8,395.0 1610.8,389.5" fill="none" stroke="#00ff00" stroke-width="1.3" stroke-linecap="square" stroke-linejoin="miter"/>
<polyline points="1609.8,397.0 1608.0,400.5" fill="none" stroke="#00ff00" stroke-width="1.3" stroke-linecap="square" stroke-linejoin="miter"/>
<polyline points="1613.7,397.5 1614.6,400.5" fill="none" stroke="#00ff00" stroke-width="1.3" stroke-linecap="square" stroke-linejoin="miter"/>
<polyline points="1617.5,397.5 1618.9,400.5" fill="none" stroke="#00ff00" stroke-width="1.3" stroke-linecap="square" stroke-linejoin="miter"/>
<polyline points="1621.2,397.0 1623.6,400.5" fill="none" stroke="#00ff00" stroke-width="1.3" stroke-linecap="square" stroke-linejoin="miter"/></g>
</svg>
</body></html>
